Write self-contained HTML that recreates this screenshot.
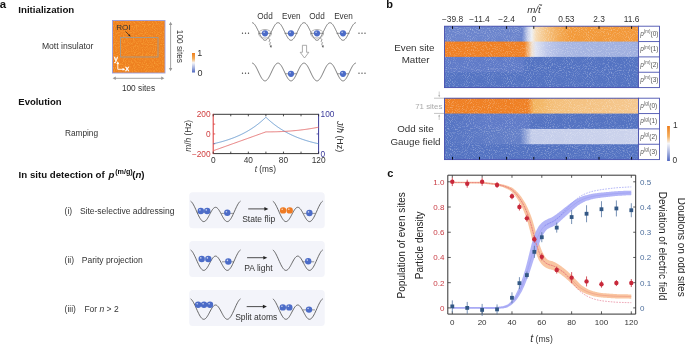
<!DOCTYPE html>
<html><head><meta charset="utf-8"><style>
html,body{margin:0;padding:0;background:#fff;}
svg{display:block;will-change:transform;font-family:"Liberation Sans",sans-serif;}
</style></head><body>
<svg width="685" height="344" viewBox="0 0 685 344">
<defs>
<linearGradient id="cbar" x1="0" x2="0" y1="0" y2="1"><stop offset="0" stop-color="#ee7d1a"/><stop offset="0.3" stop-color="#f4b060"/><stop offset="0.5" stop-color="#f6f6f8"/><stop offset="0.75" stop-color="#a8b4e0"/><stop offset="1" stop-color="#5068c0"/></linearGradient>
<filter id="speck" x="0" y="0" width="1" height="1" color-interpolation-filters="sRGB"><feTurbulence type="fractalNoise" baseFrequency="0.9" numOctaves="1" seed="3"/><feColorMatrix type="matrix" values="0 0 0 0 1  0 0 0 0 0.72  0 0 0 0 0.28  3 0 0 0 -1.3"/><feComposite in2="SourceGraphic" operator="in"/></filter>
<filter id="speck2" x="0" y="0" width="1" height="1"><feTurbulence type="fractalNoise" baseFrequency="0.95" numOctaves="1" seed="7"/><feColorMatrix type="matrix" values="0 0 0 0 1  0 0 0 0 1  0 0 0 0 1  3 0 0 0 -1.5"/><feComposite in2="SourceGraphic" operator="in"/></filter>
</defs>
<text x="-0.3" y="8.1" font-size="11.4" fill="#111" font-weight="bold">a</text>
<text x="18.3" y="12.8" font-size="9.7" fill="#111" font-weight="bold">Initialization</text>
<text x="41.9" y="49.1" font-size="8.6" fill="#333">Mott insulator</text>
<rect x="112.5" y="20.5" width="52.5" height="52.5" fill="#ee8020" stroke="#9a9ee0" stroke-width="0.9"/>
<rect x="113" y="21" width="51.5" height="51.5" fill="#f6b060" opacity="0.5" filter="url(#speck)"/>
<rect x="120.5" y="37.5" width="37.5" height="19.5" fill="none" stroke="#a09a90" stroke-width="0.9"/>
<text x="116.2" y="30.1" font-size="8.1" fill="#333">ROI</text>
<path d="M125.5,31.5 L129.6,35.6" stroke="#222" stroke-width="0.7"/>
<path d="M130.6,36.6 L128.2,35.8 L129.8,34.2 Z" fill="#222"/>
<path d="M117.8,69.3 V63 M117.8,69.3 H123.5" stroke="#fff" stroke-width="0.9" fill="none"/>
<path d="M117.8,61.3 l-1.4,2.6 h2.8z M125.2,69.3 l-2.6,-1.4 v2.8z" fill="#fff"/>
<text x="114" y="60.8" font-size="7.8" fill="#fff" stroke="#fff" stroke-width="0.35">y</text>
<text x="125.2" y="71.4" font-size="7.8" fill="#fff" stroke="#fff" stroke-width="0.35">x</text>
<path d="M114,78.3 H163" stroke="#999" stroke-width="0.9"/>
<path d="M112.6,78.3 l3.2,-1.7 v3.4z M164.4,78.3 l-3.2,-1.7 v3.4z" fill="#999"/>
<text x="121.9" y="90.8" font-size="8.3" fill="#333">100 sites</text>
<path d="M170.6,23.5 V69.5" stroke="#999" stroke-width="0.9"/>
<path d="M170.6,21.8 l-1.7,3.2 h3.4z M170.6,71.2 l-1.7,-3.2 h3.4z" fill="#999"/>
<text x="0" y="0" font-size="8.3" fill="#333" transform="translate(177,29.8) rotate(90)">100 sites</text>
<rect x="192" y="53" width="3" height="19.5" fill="url(#cbar)"/>
<text x="197.2" y="55.8" font-size="9" fill="#333">1</text>
<text x="197.4" y="75.9" font-size="9" fill="#333">0</text>
<path d="M252,22.7 L252.5,22.76 L253,22.96 L253.5,23.27 L254,23.71 L254.5,24.26 L255,24.91 L255.5,25.66 L256,26.5 L256.5,27.41 L257,28.38 L257.5,29.39 L258,30.44 L258.5,31.5 L259,32.56 L259.5,33.61 L260,34.62 L260.5,35.59 L261,36.5 L261.5,37.34 L262,38.09 L262.5,38.74 L263,39.29 L263.5,39.73 L264,40.04 L264.5,40.24 L265,40.3 L265.5,40.24 L266,40.04 L266.5,39.73 L267,39.29 L267.5,38.74 L268,38.09 L268.5,37.34 L269,36.5 L269.5,35.59 L270,34.62 L270.5,33.61 L271,32.56 L271.5,31.5 L272,30.44 L272.5,29.39 L273,28.38 L273.5,27.41 L274,26.5 L274.5,25.66 L275,24.91 L275.5,24.26 L276,23.71 L276.5,23.27 L277,22.96 L277.5,22.76 L278,22.7 L278.5,22.76 L279,22.96 L279.5,23.27 L280,23.71 L280.5,24.26 L281,24.91 L281.5,25.66 L282,26.5 L282.5,27.41 L283,28.38 L283.5,29.39 L284,30.44 L284.5,31.5 L285,32.56 L285.5,33.61 L286,34.62 L286.5,35.59 L287,36.5 L287.5,37.34 L288,38.09 L288.5,38.74 L289,39.29 L289.5,39.73 L290,40.04 L290.5,40.24 L291,40.3 L291.5,40.24 L292,40.04 L292.5,39.73 L293,39.29 L293.5,38.74 L294,38.09 L294.5,37.34 L295,36.5 L295.5,35.59 L296,34.62 L296.5,33.61 L297,32.56 L297.5,31.5 L298,30.44 L298.5,29.39 L299,28.38 L299.5,27.41 L300,26.5 L300.5,25.66 L301,24.91 L301.5,24.26 L302,23.71 L302.5,23.27 L303,22.96 L303.5,22.76 L304,22.7 L304.5,22.76 L305,22.96 L305.5,23.27 L306,23.71 L306.5,24.26 L307,24.91 L307.5,25.66 L308,26.5 L308.5,27.41 L309,28.38 L309.5,29.39 L310,30.44 L310.5,31.5 L311,32.56 L311.5,33.61 L312,34.62 L312.5,35.59 L313,36.5 L313.5,37.34 L314,38.09 L314.5,38.74 L315,39.29 L315.5,39.73 L316,40.04 L316.5,40.24 L317,40.3 L317.5,40.24 L318,40.04 L318.5,39.73 L319,39.29 L319.5,38.74 L320,38.09 L320.5,37.34 L321,36.5 L321.5,35.59 L322,34.62 L322.5,33.61 L323,32.56 L323.5,31.5 L324,30.44 L324.5,29.39 L325,28.38 L325.5,27.41 L326,26.5 L326.5,25.66 L327,24.91 L327.5,24.26 L328,23.71 L328.5,23.27 L329,22.96 L329.5,22.76 L330,22.7 L330.5,22.76 L331,22.96 L331.5,23.27 L332,23.71 L332.5,24.26 L333,24.91 L333.5,25.66 L334,26.5 L334.5,27.41 L335,28.38 L335.5,29.39 L336,30.44 L336.5,31.5 L337,32.56 L337.5,33.61 L338,34.62 L338.5,35.59 L339,36.5 L339.5,37.34 L340,38.09 L340.5,38.74 L341,39.29 L341.5,39.73 L342,40.04 L342.5,40.24 L343,40.3 L343.5,40.24 L344,40.04 L344.5,39.73 L345,39.29 L345.5,38.74 L346,38.09 L346.5,37.34 L347,36.5 L347.5,35.59 L348,34.62 L348.5,33.61 L349,32.56 L349.5,31.5 L350,30.44 L350.5,29.39 L351,28.38 L351.5,27.41 L352,26.5 L352.5,25.66 L353,24.91 L353.5,24.26 L354,23.71 L354.5,23.27 L355,22.96 L355.5,22.76 L356,22.7" fill="none" stroke="#555" stroke-width="0.75"/>
<path d="M252,63.1 L252.5,63.16 L253,63.36 L253.5,63.68 L254,64.12 L254.5,64.68 L255,65.34 L255.5,66.1 L256,66.94 L256.5,67.86 L257,68.84 L257.5,69.87 L258,70.93 L258.5,72 L259,73.07 L259.5,74.13 L260,75.16 L260.5,76.14 L261,77.06 L261.5,77.9 L262,78.66 L262.5,79.32 L263,79.88 L263.5,80.32 L264,80.64 L264.5,80.84 L265,80.9 L265.5,80.84 L266,80.64 L266.5,80.32 L267,79.88 L267.5,79.32 L268,78.66 L268.5,77.9 L269,77.06 L269.5,76.14 L270,75.16 L270.5,74.13 L271,73.07 L271.5,72 L272,70.93 L272.5,69.87 L273,68.84 L273.5,67.86 L274,66.94 L274.5,66.1 L275,65.34 L275.5,64.68 L276,64.12 L276.5,63.68 L277,63.36 L277.5,63.16 L278,63.1 L278.5,63.16 L279,63.36 L279.5,63.68 L280,64.12 L280.5,64.68 L281,65.34 L281.5,66.1 L282,66.94 L282.5,67.86 L283,68.84 L283.5,69.87 L284,70.93 L284.5,72 L285,73.07 L285.5,74.13 L286,75.16 L286.5,76.14 L287,77.06 L287.5,77.9 L288,78.66 L288.5,79.32 L289,79.88 L289.5,80.32 L290,80.64 L290.5,80.84 L291,80.9 L291.5,80.84 L292,80.64 L292.5,80.32 L293,79.88 L293.5,79.32 L294,78.66 L294.5,77.9 L295,77.06 L295.5,76.14 L296,75.16 L296.5,74.13 L297,73.07 L297.5,72 L298,70.93 L298.5,69.87 L299,68.84 L299.5,67.86 L300,66.94 L300.5,66.1 L301,65.34 L301.5,64.68 L302,64.12 L302.5,63.68 L303,63.36 L303.5,63.16 L304,63.1 L304.5,63.16 L305,63.36 L305.5,63.68 L306,64.12 L306.5,64.68 L307,65.34 L307.5,66.1 L308,66.94 L308.5,67.86 L309,68.84 L309.5,69.87 L310,70.93 L310.5,72 L311,73.07 L311.5,74.13 L312,75.16 L312.5,76.14 L313,77.06 L313.5,77.9 L314,78.66 L314.5,79.32 L315,79.88 L315.5,80.32 L316,80.64 L316.5,80.84 L317,80.9 L317.5,80.84 L318,80.64 L318.5,80.32 L319,79.88 L319.5,79.32 L320,78.66 L320.5,77.9 L321,77.06 L321.5,76.14 L322,75.16 L322.5,74.13 L323,73.07 L323.5,72 L324,70.93 L324.5,69.87 L325,68.84 L325.5,67.86 L326,66.94 L326.5,66.1 L327,65.34 L327.5,64.68 L328,64.12 L328.5,63.68 L329,63.36 L329.5,63.16 L330,63.1 L330.5,63.16 L331,63.36 L331.5,63.68 L332,64.12 L332.5,64.68 L333,65.34 L333.5,66.1 L334,66.94 L334.5,67.86 L335,68.84 L335.5,69.87 L336,70.93 L336.5,72 L337,73.07 L337.5,74.13 L338,75.16 L338.5,76.14 L339,77.06 L339.5,77.9 L340,78.66 L340.5,79.32 L341,79.88 L341.5,80.32 L342,80.64 L342.5,80.84 L343,80.9 L343.5,80.84 L344,80.64 L344.5,80.32 L345,79.88 L345.5,79.32 L346,78.66 L346.5,77.9 L347,77.06 L347.5,76.14 L348,75.16 L348.5,74.13 L349,73.07 L349.5,72 L350,70.93 L350.5,69.87 L351,68.84 L351.5,67.86 L352,66.94 L352.5,66.1 L353,65.34 L353.5,64.68 L354,64.12 L354.5,63.68 L355,63.36 L355.5,63.16 L356,63.1" fill="none" stroke="#555" stroke-width="0.75"/>
<text x="265" y="18.5" font-size="8.2" fill="#333" text-anchor="middle">Odd</text>
<text x="291.3" y="18.5" font-size="8.2" fill="#333" text-anchor="middle">Even</text>
<text x="317" y="18.5" font-size="8.2" fill="#333" text-anchor="middle">Odd</text>
<text x="343.5" y="18.5" font-size="8.2" fill="#333" text-anchor="middle">Even</text>
<ellipse cx="265" cy="33.8" rx="6.4" ry="4.3" fill="none" stroke="#999" stroke-width="0.75"/>
<ellipse cx="317" cy="33.8" rx="6.4" ry="4.3" fill="none" stroke="#999" stroke-width="0.75"/>
<path d="M258.5,33.3 H271.5" stroke="#666" stroke-width="0.7"/>
<circle cx="265" cy="33.3" r="3.1" fill="#4c6cc8"/>
<circle cx="264.1" cy="32.2" r="0.78" fill="#fff" opacity="0.7"/>
<path d="M284.5,33.3 H297.5" stroke="#666" stroke-width="0.7"/>
<circle cx="291" cy="33.3" r="3.1" fill="#4c6cc8"/>
<circle cx="290.1" cy="32.2" r="0.78" fill="#fff" opacity="0.7"/>
<path d="M310.5,33.3 H323.5" stroke="#666" stroke-width="0.7"/>
<circle cx="317" cy="33.3" r="3.1" fill="#4c6cc8"/>
<circle cx="316.1" cy="32.2" r="0.78" fill="#fff" opacity="0.7"/>
<path d="M336.5,33.3 H349.5" stroke="#666" stroke-width="0.7"/>
<circle cx="343" cy="33.3" r="3.1" fill="#4c6cc8"/>
<circle cx="342.1" cy="32.2" r="0.78" fill="#fff" opacity="0.7"/>
<path d="M285.3,73.8 H296.7" stroke="#666" stroke-width="0.7"/>
<circle cx="291" cy="73.8" r="3.1" fill="#4c6cc8"/>
<circle cx="290.1" cy="72.7" r="0.78" fill="#fff" opacity="0.7"/>
<path d="M337.3,73.8 H348.7" stroke="#666" stroke-width="0.7"/>
<circle cx="343" cy="73.8" r="3.1" fill="#4c6cc8"/>
<circle cx="342.1" cy="72.7" r="0.78" fill="#fff" opacity="0.7"/>
<path d="M268.6,38.2 L270,39.8 L269.1,41.3 L270.5,42.8 L269.6,44.2 L270.8,45.6" fill="none" stroke="#555" stroke-width="0.6" stroke-linejoin="round"/>
<path d="M271.1,48 l-1.5,-2.3 l2.3,-0.3z" fill="#555"/>
<path d="M320.6,38.2 L322,39.8 L321.1,41.3 L322.5,42.8 L321.6,44.2 L322.8,45.6" fill="none" stroke="#555" stroke-width="0.6" stroke-linejoin="round"/>
<path d="M323.1,48 l-1.5,-2.3 l2.3,-0.3z" fill="#555"/>
<circle cx="242.5" cy="33.2" r="0.65" fill="#333"/>
<circle cx="245.5" cy="33.2" r="0.65" fill="#333"/>
<circle cx="248.5" cy="33.2" r="0.65" fill="#333"/>
<circle cx="359" cy="33.2" r="0.65" fill="#333"/>
<circle cx="362" cy="33.2" r="0.65" fill="#333"/>
<circle cx="365" cy="33.2" r="0.65" fill="#333"/>
<circle cx="242.5" cy="73.2" r="0.65" fill="#333"/>
<circle cx="245.5" cy="73.2" r="0.65" fill="#333"/>
<circle cx="248.5" cy="73.2" r="0.65" fill="#333"/>
<circle cx="359" cy="73.2" r="0.65" fill="#333"/>
<circle cx="362" cy="73.2" r="0.65" fill="#333"/>
<circle cx="365" cy="73.2" r="0.65" fill="#333"/>
<path d="M302.4,45.3 H306.6 V52.3 H308.8 L304.5,58 L300.2,52.3 H302.4 Z" fill="#fff" stroke="#888" stroke-width="0.7"/>
<text x="18.3" y="104.8" font-size="9.5" fill="#111" font-weight="bold">Evolution</text>
<text x="64.9" y="135.7" font-size="8.3" fill="#333">Ramping</text>
<path d="M213.2,114.3 H318.6 M213.2,153.6 H318.6" stroke="#222" stroke-width="0.9"/>
<path d="M213.2,113.85 V154.04999999999998" stroke="#d33" stroke-width="1"/>
<path d="M318.6,113.85 V154.04999999999998" stroke="#3a3a9a" stroke-width="1"/>
<path d="M213.2,114.3 v2 M213.2,153.6 v-2 M230.77,114.3 v2 M230.77,153.6 v-2 M248.33,114.3 v2 M248.33,153.6 v-2 M265.9,114.3 v2 M265.9,153.6 v-2 M283.47,114.3 v2 M283.47,153.6 v-2 M301.03,114.3 v2 M301.03,153.6 v-2 M318.6,114.3 v2 M318.6,153.6 v-2 " stroke="#222" stroke-width="0.8"/>
<path d="M213.2,124.12 h2 M213.2,133.95 h2 M213.2,143.78 h2 " stroke="#d33" stroke-width="0.8"/>
<path d="M318.6,133.95 h-2 " stroke="#3a3a9a" stroke-width="0.8"/>
<text x="210.6" y="117.2" font-size="8.3" fill="#d04040" text-anchor="end">200</text>
<text x="210.6" y="136.85" font-size="8.3" fill="#d04040" text-anchor="end">0</text>
<text x="210.6" y="156.5" font-size="8.3" fill="#d04040" text-anchor="end">−200</text>
<text x="320.6" y="117.2" font-size="8.3" fill="#3a3a9a">100</text>
<text x="320.6" y="156.5" font-size="8.3" fill="#3a3a9a">0</text>
<text x="213.2" y="163" font-size="8.3" fill="#333" text-anchor="middle">0</text>
<text x="248.33" y="163" font-size="8.3" fill="#333" text-anchor="middle">40</text>
<text x="283.47" y="163" font-size="8.3" fill="#333" text-anchor="middle">80</text>
<text x="318.6" y="163" font-size="8.3" fill="#333" text-anchor="middle">120</text>
<text x="265.3" y="172" font-size="8.3" fill="#333" text-anchor="middle"><tspan font-style="italic">t</tspan> (ms)</text>
<text transform="translate(190.5,135.8) rotate(-90)" font-size="8.3" fill="#333" text-anchor="middle"><tspan font-style="italic">m</tspan>/<tspan font-style="italic">h</tspan> (Hz)</text>
<text transform="translate(336.6,136.6) rotate(90)" font-size="8.9" fill="#333" text-anchor="middle"><tspan font-style="italic">J</tspan>/<tspan font-style="italic">ħ</tspan> (Hz)</text>
<path d="M213.2,143.78 L213.64,143.68 L214.08,143.58 L214.52,143.48 L214.96,143.38 L215.4,143.28 L215.83,143.18 L216.27,143.08 L216.71,142.97 L217.15,142.87 L217.59,142.76 L218.03,142.65 L218.47,142.54 L218.91,142.43 L219.35,142.32 L219.79,142.2 L220.23,142.09 L220.67,141.97 L221.1,141.85 L221.54,141.73 L221.98,141.61 L222.42,141.48 L222.86,141.36 L223.3,141.23 L223.74,141.11 L224.18,140.98 L224.62,140.84 L225.06,140.71 L225.5,140.58 L225.94,140.44 L226.38,140.3 L226.81,140.16 L227.25,140.02 L227.69,139.88 L228.13,139.73 L228.57,139.59 L229.01,139.44 L229.45,139.29 L229.89,139.14 L230.33,138.98 L230.77,138.82 L231.21,138.67 L231.64,138.51 L232.08,138.34 L232.52,138.18 L232.96,138.01 L233.4,137.85 L233.84,137.67 L234.28,137.5 L234.72,137.33 L235.16,137.15 L235.6,136.97 L236.04,136.79 L236.48,136.61 L236.91,136.42 L237.35,136.23 L237.79,136.04 L238.23,135.85 L238.67,135.65 L239.11,135.45 L239.55,135.25 L239.99,135.05 L240.43,134.84 L240.87,134.63 L241.31,134.42 L241.75,134.21 L242.19,133.99 L242.62,133.77 L243.06,133.55 L243.5,133.33 L243.94,133.1 L244.38,132.87 L244.82,132.64 L245.26,132.4 L245.7,132.16 L246.14,131.92 L246.58,131.68 L247.02,131.43 L247.45,131.18 L247.89,130.92 L248.33,130.66 L248.77,130.4 L249.21,130.14 L249.65,129.87 L250.09,129.6 L250.53,129.33 L250.97,129.05 L251.41,128.77 L251.85,128.48 L252.29,128.19 L252.72,127.9 L253.16,127.61 L253.6,127.31 L254.04,127 L254.48,126.7 L254.92,126.39 L255.36,126.07 L255.8,125.75 L256.24,125.43 L256.68,125.1 L257.12,124.77 L257.56,124.44 L258,124.1 L258.43,123.75 L258.87,123.41 L259.31,123.05 L259.75,122.7 L260.19,122.34 L260.63,121.97 L261.07,121.6 L261.51,121.23 L261.95,120.85 L262.39,120.46 L262.83,120.07 L263.26,119.68 L263.7,119.28 L264.14,118.88 L264.58,118.47 L265.02,118.05 L265.46,117.63 L265.9,117.21 L266.34,117.63 L266.78,118.05 L267.22,118.47 L267.66,118.88 L268.1,119.28 L268.54,119.68 L268.97,120.07 L269.41,120.46 L269.85,120.85 L270.29,121.23 L270.73,121.6 L271.17,121.97 L271.61,122.34 L272.05,122.7 L272.49,123.05 L272.93,123.41 L273.37,123.75 L273.81,124.1 L274.24,124.44 L274.68,124.77 L275.12,125.1 L275.56,125.43 L276,125.75 L276.44,126.07 L276.88,126.39 L277.32,126.7 L277.76,127 L278.2,127.31 L278.64,127.61 L279.08,127.9 L279.51,128.19 L279.95,128.48 L280.39,128.77 L280.83,129.05 L281.27,129.33 L281.71,129.6 L282.15,129.87 L282.59,130.14 L283.03,130.4 L283.47,130.66 L283.91,130.92 L284.35,131.18 L284.78,131.43 L285.22,131.68 L285.66,131.92 L286.1,132.16 L286.54,132.4 L286.98,132.64 L287.42,132.87 L287.86,133.1 L288.3,133.33 L288.74,133.55 L289.18,133.77 L289.62,133.99 L290.05,134.21 L290.49,134.42 L290.93,134.63 L291.37,134.84 L291.81,135.05 L292.25,135.25 L292.69,135.45 L293.13,135.65 L293.57,135.85 L294.01,136.04 L294.45,136.23 L294.88,136.42 L295.32,136.61 L295.76,136.79 L296.2,136.97 L296.64,137.15 L297.08,137.33 L297.52,137.5 L297.96,137.67 L298.4,137.85 L298.84,138.01 L299.28,138.18 L299.72,138.34 L300.16,138.51 L300.59,138.67 L301.03,138.82 L301.47,138.98 L301.91,139.14 L302.35,139.29 L302.79,139.44 L303.23,139.59 L303.67,139.73 L304.11,139.88 L304.55,140.02 L304.99,140.16 L305.43,140.3 L305.86,140.44 L306.3,140.58 L306.74,140.71 L307.18,140.84 L307.62,140.98 L308.06,141.11 L308.5,141.23 L308.94,141.36 L309.38,141.48 L309.82,141.61 L310.26,141.73 L310.7,141.85 L311.13,141.97 L311.57,142.09 L312.01,142.2 L312.45,142.32 L312.89,142.43 L313.33,142.54 L313.77,142.65 L314.21,142.76 L314.65,142.87 L315.09,142.97 L315.53,143.08 L315.97,143.18 L316.4,143.28 L316.84,143.38 L317.28,143.48 L317.72,143.58 L318.16,143.68 L318.6,143.78" fill="none" stroke="#4a86c5" stroke-width="0.8"/>
<path d="M213.2,150.75 L214.08,150.44 L214.96,150.12 L215.83,149.81 L216.71,149.49 L217.59,149.18 L218.47,148.86 L219.35,148.55 L220.23,148.24 L221.1,147.92 L221.98,147.61 L222.86,147.29 L223.74,146.98 L224.62,146.66 L225.5,146.35 L226.38,146.03 L227.25,145.72 L228.13,145.41 L229.01,145.09 L229.89,144.78 L230.77,144.46 L231.64,144.15 L232.52,143.83 L233.4,143.52 L234.28,143.21 L235.16,142.89 L236.04,142.58 L236.91,142.26 L237.79,141.95 L238.67,141.63 L239.55,141.32 L240.43,141 L241.31,140.69 L242.19,140.38 L243.06,140.06 L243.94,139.75 L244.82,139.43 L245.7,139.12 L246.58,138.8 L247.45,138.49 L248.33,138.17 L249.21,137.86 L250.09,137.55 L250.97,137.23 L251.85,136.92 L252.72,136.6 L253.6,136.29 L254.48,135.97 L255.36,135.66 L256.24,135.35 L257.12,135.03 L258,134.72 L258.87,134.4 L259.75,134.09 L260.63,133.77 L261.51,133.46 L262.39,133.14 L263.26,132.83 L264.14,132.52 L265.02,132.2 L265.9,131.89 L266.78,131.89 L267.66,131.88 L268.54,131.88 L269.41,131.87 L270.29,131.87 L271.17,131.86 L272.05,131.85 L272.93,131.83 L273.81,131.81 L274.68,131.8 L275.56,131.77 L276.44,131.75 L277.32,131.72 L278.2,131.7 L279.08,131.66 L279.95,131.63 L280.83,131.59 L281.71,131.56 L282.59,131.51 L283.47,131.47 L284.35,131.42 L285.22,131.37 L286.1,131.32 L286.98,131.26 L287.86,131.2 L288.74,131.14 L289.62,131.08 L290.49,131.01 L291.37,130.94 L292.25,130.87 L293.13,130.79 L294.01,130.71 L294.88,130.63 L295.76,130.54 L296.64,130.45 L297.52,130.36 L298.4,130.27 L299.28,130.17 L300.16,130.07 L301.03,129.97 L301.91,129.86 L302.79,129.75 L303.67,129.63 L304.55,129.52 L305.43,129.4 L306.3,129.27 L307.18,129.15 L308.06,129.02 L308.94,128.89 L309.82,128.75 L310.7,128.61 L311.57,128.47 L312.45,128.32 L313.33,128.17 L314.21,128.02 L315.09,127.86 L315.97,127.7 L316.84,127.54 L317.72,127.37 L318.6,127.2" fill="none" stroke="#e05a5a" stroke-width="0.8"/>
<text x="18.6" y="177.5" font-size="9.7" font-weight="bold" fill="#111">In situ detection of <tspan font-style="italic" dx="1.2">p</tspan><tspan font-size="7.2" dy="-3.8" dx="0.6">(m/g)</tspan><tspan dy="3.8" dx="-0.5">(</tspan><tspan font-style="italic">n</tspan>)</text>
<text x="64.6" y="214" font-size="8.5" fill="#333">(i)</text>
<text x="79.9" y="214" font-size="8.5" fill="#333">Site-selective addressing</text>
<text x="64.6" y="262.9" font-size="8.5" fill="#333">(ii)</text>
<text x="81.8" y="262.9" font-size="8.5" fill="#333">Parity projection</text>
<text x="64.6" y="311.7" font-size="8.5" fill="#333">(iii)</text>
<text x="84.4" y="311.7" font-size="8.5" fill="#333">For <tspan font-style="italic">n</tspan> &gt; 2</text>
<rect x="189.2" y="192.3" width="135.5" height="36" rx="3.5" fill="#f3f4fa"/>
<path d="M190.66,201.11 L191.39,201.74 L192.12,202.61 L192.85,203.68 L193.58,204.93 L194.31,206.33 L195.04,207.86 L195.77,209.46 L196.5,211.1 L197.23,212.74 L197.96,214.34 L198.69,215.87 L199.42,217.27 L200.15,218.52 L200.88,219.59 L201.61,220.46 L202.34,221.09 L203.07,221.47 L203.8,221.6 L203.8,221.6 L204.39,221.51 L204.98,221.25 L205.56,220.82 L206.15,220.23 L206.74,219.51 L207.33,218.65 L207.91,217.7 L208.5,216.66 L209.09,215.57 L209.68,214.45 L210.26,213.33 L210.85,212.24 L211.44,211.2 L212.03,210.25 L212.61,209.39 L213.2,208.67 L213.79,208.08 L214.38,207.65 L214.96,207.39 L215.55,207.3 L215.55,207.3 L216.14,207.39 L216.73,207.65 L217.31,208.08 L217.9,208.67 L218.49,209.39 L219.07,210.25 L219.66,211.2 L220.25,212.24 L220.84,213.33 L221.43,214.45 L222.01,215.57 L222.6,216.66 L223.19,217.7 L223.77,218.65 L224.36,219.51 L224.95,220.23 L225.54,220.82 L226.12,221.25 L226.71,221.51 L227.3,221.6 L227.3,221.6 L228.03,221.47 L228.76,221.09 L229.49,220.46 L230.22,219.59 L230.95,218.52 L231.68,217.27 L232.41,215.87 L233.14,214.34 L233.87,212.74 L234.6,211.1 L235.33,209.46 L236.06,207.86 L236.79,206.33 L237.52,204.93 L238.25,203.68 L238.98,202.61 L239.71,201.74 L240.44,201.11" fill="none" stroke="#444" stroke-width="0.8"/>
<path d="M272.86,201.11 L273.59,201.74 L274.32,202.61 L275.05,203.68 L275.78,204.93 L276.51,206.33 L277.24,207.86 L277.97,209.46 L278.7,211.1 L279.43,212.74 L280.16,214.34 L280.89,215.87 L281.62,217.27 L282.35,218.52 L283.08,219.59 L283.81,220.46 L284.54,221.09 L285.27,221.47 L286,221.6 L286,221.6 L286.59,221.51 L287.18,221.25 L287.76,220.82 L288.35,220.23 L288.94,219.51 L289.52,218.65 L290.11,217.7 L290.7,216.66 L291.29,215.57 L291.88,214.45 L292.46,213.33 L293.05,212.24 L293.64,211.2 L294.23,210.25 L294.81,209.39 L295.4,208.67 L295.99,208.08 L296.57,207.65 L297.16,207.39 L297.75,207.3 L297.75,207.3 L298.34,207.39 L298.93,207.65 L299.51,208.08 L300.1,208.67 L300.69,209.39 L301.28,210.25 L301.86,211.2 L302.45,212.24 L303.04,213.33 L303.62,214.45 L304.21,215.57 L304.8,216.66 L305.39,217.7 L305.98,218.65 L306.56,219.51 L307.15,220.23 L307.74,220.82 L308.33,221.25 L308.91,221.51 L309.5,221.6 L309.5,221.6 L310.23,221.47 L310.96,221.09 L311.69,220.46 L312.42,219.59 L313.15,218.52 L313.88,217.27 L314.61,215.87 L315.34,214.34 L316.07,212.74 L316.8,211.1 L317.53,209.46 L318.26,207.86 L318.99,206.33 L319.72,204.93 L320.45,203.68 L321.18,202.61 L321.91,201.74 L322.64,201.11" fill="none" stroke="#444" stroke-width="0.8"/>
<path d="M248.2,208.9 H265" stroke="#222" stroke-width="0.8"/>
<path d="M268.4,208.9 l-4,-1.8 v3.6z" fill="#222"/>
<text x="242.2" y="222.3" font-size="8.5" fill="#333">State flip</text>
<rect x="189.2" y="241.1" width="135.5" height="36" rx="3.5" fill="#f3f4fa"/>
<path d="M190.66,249.91 L191.39,250.54 L192.12,251.41 L192.85,252.48 L193.58,253.73 L194.31,255.13 L195.04,256.66 L195.77,258.26 L196.5,259.9 L197.23,261.54 L197.96,263.14 L198.69,264.67 L199.42,266.07 L200.15,267.32 L200.88,268.39 L201.61,269.26 L202.34,269.89 L203.07,270.27 L203.8,270.4 L203.8,270.4 L204.39,270.31 L204.98,270.05 L205.56,269.62 L206.15,269.03 L206.74,268.31 L207.33,267.45 L207.91,266.5 L208.5,265.46 L209.09,264.37 L209.68,263.25 L210.26,262.13 L210.85,261.04 L211.44,260 L212.03,259.05 L212.61,258.19 L213.2,257.47 L213.79,256.88 L214.38,256.45 L214.96,256.19 L215.55,256.1 L215.55,256.1 L216.14,256.19 L216.73,256.45 L217.31,256.88 L217.9,257.47 L218.49,258.19 L219.07,259.05 L219.66,260 L220.25,261.04 L220.84,262.13 L221.43,263.25 L222.01,264.37 L222.6,265.46 L223.19,266.5 L223.77,267.45 L224.36,268.31 L224.95,269.03 L225.54,269.62 L226.12,270.05 L226.71,270.31 L227.3,270.4 L227.3,270.4 L228.03,270.27 L228.76,269.89 L229.49,269.26 L230.22,268.39 L230.95,267.32 L231.68,266.07 L232.41,264.67 L233.14,263.14 L233.87,261.54 L234.6,259.9 L235.33,258.26 L236.06,256.66 L236.79,255.13 L237.52,253.73 L238.25,252.48 L238.98,251.41 L239.71,250.54 L240.44,249.91" fill="none" stroke="#444" stroke-width="0.8"/>
<path d="M272.86,249.91 L273.59,250.54 L274.32,251.41 L275.05,252.48 L275.78,253.73 L276.51,255.13 L277.24,256.66 L277.97,258.26 L278.7,259.9 L279.43,261.54 L280.16,263.14 L280.89,264.67 L281.62,266.07 L282.35,267.32 L283.08,268.39 L283.81,269.26 L284.54,269.89 L285.27,270.27 L286,270.4 L286,270.4 L286.59,270.31 L287.18,270.05 L287.76,269.62 L288.35,269.03 L288.94,268.31 L289.52,267.45 L290.11,266.5 L290.7,265.46 L291.29,264.37 L291.88,263.25 L292.46,262.13 L293.05,261.04 L293.64,260 L294.23,259.05 L294.81,258.19 L295.4,257.47 L295.99,256.88 L296.57,256.45 L297.16,256.19 L297.75,256.1 L297.75,256.1 L298.34,256.19 L298.93,256.45 L299.51,256.88 L300.1,257.47 L300.69,258.19 L301.28,259.05 L301.86,260 L302.45,261.04 L303.04,262.13 L303.62,263.25 L304.21,264.37 L304.8,265.46 L305.39,266.5 L305.98,267.45 L306.56,268.31 L307.15,269.03 L307.74,269.62 L308.33,270.05 L308.91,270.31 L309.5,270.4 L309.5,270.4 L310.23,270.27 L310.96,269.89 L311.69,269.26 L312.42,268.39 L313.15,267.32 L313.88,266.07 L314.61,264.67 L315.34,263.14 L316.07,261.54 L316.8,259.9 L317.53,258.26 L318.26,256.66 L318.99,255.13 L319.72,253.73 L320.45,252.48 L321.18,251.41 L321.91,250.54 L322.64,249.91" fill="none" stroke="#444" stroke-width="0.8"/>
<path d="M247.1,257.7 H263.9" stroke="#222" stroke-width="0.8"/>
<path d="M267.3,257.7 l-4,-1.8 v3.6z" fill="#222"/>
<text x="244.3" y="271.1" font-size="8.5" fill="#333">PA light</text>
<rect x="189.2" y="290" width="135.5" height="36" rx="3.5" fill="#f3f4fa"/>
<path d="M190.66,298.81 L191.39,299.44 L192.12,300.31 L192.85,301.38 L193.58,302.63 L194.31,304.03 L195.04,305.56 L195.77,307.16 L196.5,308.8 L197.23,310.44 L197.96,312.04 L198.69,313.57 L199.42,314.97 L200.15,316.22 L200.88,317.29 L201.61,318.16 L202.34,318.79 L203.07,319.17 L203.8,319.3 L203.8,319.3 L204.39,319.21 L204.98,318.95 L205.56,318.52 L206.15,317.93 L206.74,317.21 L207.33,316.35 L207.91,315.4 L208.5,314.36 L209.09,313.27 L209.68,312.15 L210.26,311.03 L210.85,309.94 L211.44,308.9 L212.03,307.95 L212.61,307.09 L213.2,306.37 L213.79,305.78 L214.38,305.35 L214.96,305.09 L215.55,305 L215.55,305 L216.14,305.09 L216.73,305.35 L217.31,305.78 L217.9,306.37 L218.49,307.09 L219.07,307.95 L219.66,308.9 L220.25,309.94 L220.84,311.03 L221.43,312.15 L222.01,313.27 L222.6,314.36 L223.19,315.4 L223.77,316.35 L224.36,317.21 L224.95,317.93 L225.54,318.52 L226.12,318.95 L226.71,319.21 L227.3,319.3 L227.3,319.3 L228.03,319.17 L228.76,318.79 L229.49,318.16 L230.22,317.29 L230.95,316.22 L231.68,314.97 L232.41,313.57 L233.14,312.04 L233.87,310.44 L234.6,308.8 L235.33,307.16 L236.06,305.56 L236.79,304.03 L237.52,302.63 L238.25,301.38 L238.98,300.31 L239.71,299.44 L240.44,298.81" fill="none" stroke="#444" stroke-width="0.8"/>
<path d="M272.86,298.81 L273.59,299.44 L274.32,300.31 L275.05,301.38 L275.78,302.63 L276.51,304.03 L277.24,305.56 L277.97,307.16 L278.7,308.8 L279.43,310.44 L280.16,312.04 L280.89,313.57 L281.62,314.97 L282.35,316.22 L283.08,317.29 L283.81,318.16 L284.54,318.79 L285.27,319.17 L286,319.3 L286,319.3 L286.59,319.21 L287.18,318.95 L287.76,318.52 L288.35,317.93 L288.94,317.21 L289.52,316.35 L290.11,315.4 L290.7,314.36 L291.29,313.27 L291.88,312.15 L292.46,311.03 L293.05,309.94 L293.64,308.9 L294.23,307.95 L294.81,307.09 L295.4,306.37 L295.99,305.78 L296.57,305.35 L297.16,305.09 L297.75,305 L297.75,305 L298.34,305.09 L298.93,305.35 L299.51,305.78 L300.1,306.37 L300.69,307.09 L301.28,307.95 L301.86,308.9 L302.45,309.94 L303.04,311.03 L303.62,312.15 L304.21,313.27 L304.8,314.36 L305.39,315.4 L305.98,316.35 L306.56,317.21 L307.15,317.93 L307.74,318.52 L308.33,318.95 L308.91,319.21 L309.5,319.3 L309.5,319.3 L310.23,319.17 L310.96,318.79 L311.69,318.16 L312.42,317.29 L313.15,316.22 L313.88,314.97 L314.61,313.57 L315.34,312.04 L316.07,310.44 L316.8,308.8 L317.53,307.16 L318.26,305.56 L318.99,304.03 L319.72,302.63 L320.45,301.38 L321.18,300.31 L321.91,299.44 L322.64,298.81" fill="none" stroke="#444" stroke-width="0.8"/>
<path d="M246.7,306.6 H263.5" stroke="#222" stroke-width="0.8"/>
<path d="M266.9,306.6 l-4,-1.8 v3.6z" fill="#222"/>
<text x="235.2" y="320" font-size="8.5" fill="#333">Split atoms</text>
<path d="M196.8,212.2 H211" stroke="#555" stroke-width="0.6"/>
<circle cx="200.8" cy="211" r="3.2" fill="#4c6cc8"/>
<circle cx="199.9" cy="209.9" r="0.8" fill="#fff" opacity="0.7"/>
<circle cx="207.2" cy="211" r="3.2" fill="#4c6cc8"/>
<circle cx="206.3" cy="209.9" r="0.8" fill="#fff" opacity="0.7"/>
<path d="M221.2,213.4 H233" stroke="#555" stroke-width="0.6"/>
<circle cx="227.3" cy="212.8" r="3.2" fill="#4c6cc8"/>
<circle cx="226.4" cy="211.7" r="0.8" fill="#fff" opacity="0.7"/>
<circle cx="283.1" cy="210.4" r="3.2" fill="#ee7a22"/>
<circle cx="282.2" cy="209.3" r="0.8" fill="#fff" opacity="0.7"/>
<circle cx="289.7" cy="210.4" r="3.2" fill="#ee7a22"/>
<circle cx="288.8" cy="209.3" r="0.8" fill="#fff" opacity="0.7"/>
<path d="M303.4,213.4 H315.2" stroke="#555" stroke-width="0.6"/>
<circle cx="309.4" cy="213" r="3.2" fill="#4c6cc8"/>
<circle cx="308.5" cy="211.9" r="0.8" fill="#fff" opacity="0.7"/>
<circle cx="201.7" cy="259" r="3.2" fill="#4c6cc8"/>
<circle cx="200.8" cy="257.9" r="0.8" fill="#fff" opacity="0.7"/>
<circle cx="208.3" cy="259" r="3.2" fill="#4c6cc8"/>
<circle cx="207.4" cy="257.9" r="0.8" fill="#fff" opacity="0.7"/>
<path d="M222,261.8 H234" stroke="#555" stroke-width="0.6"/>
<circle cx="228.3" cy="261.5" r="3.2" fill="#4c6cc8"/>
<circle cx="227.4" cy="260.4" r="0.8" fill="#fff" opacity="0.7"/>
<path d="M302.2,261.8 H314.2" stroke="#555" stroke-width="0.6"/>
<circle cx="308.2" cy="261.2" r="3.2" fill="#4c6cc8"/>
<circle cx="307.3" cy="260.1" r="0.8" fill="#fff" opacity="0.7"/>
<circle cx="198.1" cy="304.8" r="3.2" fill="#4c6cc8"/>
<circle cx="197.2" cy="303.7" r="0.8" fill="#fff" opacity="0.7"/>
<circle cx="204" cy="304.8" r="3.2" fill="#4c6cc8"/>
<circle cx="203.1" cy="303.7" r="0.8" fill="#fff" opacity="0.7"/>
<circle cx="210" cy="304.8" r="3.2" fill="#4c6cc8"/>
<circle cx="209.1" cy="303.7" r="0.8" fill="#fff" opacity="0.7"/>
<circle cx="282.8" cy="307.4" r="3.2" fill="#4c6cc8"/>
<circle cx="281.9" cy="306.3" r="0.8" fill="#fff" opacity="0.7"/>
<circle cx="289.3" cy="307.4" r="3.2" fill="#4c6cc8"/>
<circle cx="288.4" cy="306.3" r="0.8" fill="#fff" opacity="0.7"/>
<path d="M303,309.9 H315" stroke="#555" stroke-width="0.6"/>
<circle cx="309" cy="309.6" r="3.2" fill="#4c6cc8"/>
<circle cx="308.1" cy="308.5" r="0.8" fill="#fff" opacity="0.7"/>
<text x="386.3" y="7.8" font-size="11" fill="#111" font-weight="bold">b</text>
<text x="534" y="12.6" font-size="9.8" fill="#333" text-anchor="middle" font-style="italic">m/t̃</text>
<text x="452.5" y="21.9" font-size="8.4" fill="#333" text-anchor="middle">−39.8</text>
<text x="479.5" y="21.9" font-size="8.4" fill="#333" text-anchor="middle">−11.4</text>
<text x="506.6" y="21.9" font-size="8.4" fill="#333" text-anchor="middle">−2.4</text>
<text x="533.8" y="21.9" font-size="8.4" fill="#333" text-anchor="middle">0</text>
<text x="566.3" y="21.9" font-size="8.4" fill="#333" text-anchor="middle">0.53</text>
<text x="599" y="21.9" font-size="8.4" fill="#333" text-anchor="middle">2.3</text>
<text x="631.6" y="21.9" font-size="8.4" fill="#333" text-anchor="middle">11.6</text>
<rect x="444.5" y="26.2" width="194.0" height="61.4" fill="#5473c2"/>
<linearGradient id="gt0" x1="0" x2="1" y1="0" y2="0"><stop offset="0" stop-color="#6b84cc"/><stop offset="0.4" stop-color="#6b84cc"/><stop offset="0.43" stop-color="#c8d0ea"/><stop offset="0.45" stop-color="#eef0f4"/><stop offset="0.47" stop-color="#f6dcb8"/><stop offset="0.52" stop-color="#f5c485"/><stop offset="0.59" stop-color="#f3aa55"/><stop offset="0.65" stop-color="#f29a3a"/><stop offset="1" stop-color="#f2983a"/></linearGradient>
<rect x="444.5" y="26.2" width="194.0" height="15.95" fill="url(#gt0)"/>
<linearGradient id="gt1" x1="0" x2="1" y1="0" y2="0"><stop offset="0" stop-color="#ef8024"/><stop offset="0.41" stop-color="#ef8024"/><stop offset="0.43" stop-color="#f3b070"/><stop offset="0.45" stop-color="#f0e0d0"/><stop offset="0.47" stop-color="#dfe3f2"/><stop offset="0.53" stop-color="#bcc6ea"/><stop offset="0.62" stop-color="#a8b6e2"/><stop offset="1" stop-color="#9eaedf"/></linearGradient>
<rect x="444.5" y="41.55" width="194.0" height="15.95" fill="url(#gt1)"/>
<linearGradient id="gt2" x1="0" x2="1" y1="0" y2="0"><stop offset="0" stop-color="#607bc8"/><stop offset="0.4" stop-color="#607bc8"/><stop offset="0.42" stop-color="#5473c2"/><stop offset="1" stop-color="#5473c2"/></linearGradient>
<rect x="444.5" y="56.9" width="194.0" height="15.95" fill="url(#gt2)"/>
<linearGradient id="gt3" x1="0" x2="1" y1="0" y2="0"><stop offset="0" stop-color="#5473c2"/><stop offset="1" stop-color="#5473c2"/></linearGradient>
<rect x="444.5" y="72.25" width="194.0" height="15.35" fill="url(#gt3)"/>
<rect x="444.5" y="26.2" width="194.0" height="61.4" fill="#fff" opacity="0.38" filter="url(#speck2)"/>
<rect x="444.5" y="98.2" width="194.0" height="61.4" fill="#5473c2"/>
<linearGradient id="gb0" x1="0" x2="1" y1="0" y2="0"><stop offset="0" stop-color="#ef8024"/><stop offset="0.43" stop-color="#ef8024"/><stop offset="0.46" stop-color="#f3b45e"/><stop offset="0.57" stop-color="#f4c07c"/><stop offset="1" stop-color="#f5c890"/></linearGradient>
<rect x="444.5" y="98.2" width="194.0" height="15.95" fill="url(#gb0)"/>
<linearGradient id="gb1" x1="0" x2="1" y1="0" y2="0"><stop offset="0" stop-color="#5473c2"/><stop offset="0.23" stop-color="#607bc8"/><stop offset="0.43" stop-color="#607bc8"/><stop offset="0.45" stop-color="#5473c2"/><stop offset="1" stop-color="#5473c2"/></linearGradient>
<rect x="444.5" y="113.55" width="194.0" height="15.95" fill="url(#gb1)"/>
<linearGradient id="gb2" x1="0" x2="1" y1="0" y2="0"><stop offset="0" stop-color="#5473c2"/><stop offset="0.39" stop-color="#6580c8"/><stop offset="0.45" stop-color="#c4cdea"/><stop offset="1" stop-color="#ccd3ec"/></linearGradient>
<rect x="444.5" y="128.9" width="194.0" height="15.95" fill="url(#gb2)"/>
<linearGradient id="gb3" x1="0" x2="1" y1="0" y2="0"><stop offset="0" stop-color="#5473c2"/><stop offset="1" stop-color="#5473c2"/></linearGradient>
<rect x="444.5" y="144.25" width="194.0" height="15.35" fill="url(#gb3)"/>
<rect x="444.5" y="98.2" width="194.0" height="61.4" fill="#fff" opacity="0.38" filter="url(#speck2)"/>
<rect x="444.5" y="26.2" width="194.0" height="61.4" fill="none" stroke="#4a52b0" stroke-width="0.9"/>
<rect x="638.5" y="26.2" width="21" height="61.4" fill="#fff" stroke="#4a52b0" stroke-width="0.9"/>
<path d="M638.5,41.55 h21 M638.5,56.9 h21 M638.5,72.25 h21 " stroke="#4a52b0" stroke-width="0.9"/>
<rect x="444.5" y="98.2" width="194.0" height="61.4" fill="none" stroke="#4a52b0" stroke-width="0.9"/>
<rect x="638.5" y="98.2" width="21" height="61.4" fill="#fff" stroke="#4a52b0" stroke-width="0.9"/>
<path d="M638.5,113.55 h21 M638.5,128.9 h21 M638.5,144.25 h21 " stroke="#4a52b0" stroke-width="0.9"/>
<path d="M452.5,26.2 v2.7 M479.5,26.2 v2.7 M506.6,26.2 v2.7 M533.8,26.2 v2.7 M566.3,26.2 v2.7 M599,26.2 v2.7 M631.6,26.2 v2.7 M452.5,159.6 v-2.7 M479.5,159.6 v-2.7 M506.6,159.6 v-2.7 M533.8,159.6 v-2.7 M566.3,159.6 v-2.7 M599,159.6 v-2.7 M631.6,159.6 v-2.7 " stroke="#000" stroke-width="0.9"/>
<text x="640.2" y="36.1" font-size="6.5" fill="#555"><tspan font-style="italic">p</tspan><tspan font-size="4.5" dy="-2.9">(m)</tspan><tspan dy="2.9">(0)</tspan></text>
<text x="640.2" y="51.45" font-size="6.5" fill="#555"><tspan font-style="italic">p</tspan><tspan font-size="4.5" dy="-2.9">(m)</tspan><tspan dy="2.9">(1)</tspan></text>
<text x="640.2" y="66.8" font-size="6.5" fill="#555"><tspan font-style="italic">p</tspan><tspan font-size="4.5" dy="-2.9">(m)</tspan><tspan dy="2.9">(2)</tspan></text>
<text x="640.2" y="82.15" font-size="6.5" fill="#555"><tspan font-style="italic">p</tspan><tspan font-size="4.5" dy="-2.9">(m)</tspan><tspan dy="2.9">(3)</tspan></text>
<text x="640.2" y="108.1" font-size="6.5" fill="#555"><tspan font-style="italic">p</tspan><tspan font-size="4.5" dy="-2.9">(g)</tspan><tspan dy="2.9">(0)</tspan></text>
<text x="640.2" y="123.45" font-size="6.5" fill="#555"><tspan font-style="italic">p</tspan><tspan font-size="4.5" dy="-2.9">(g)</tspan><tspan dy="2.9">(1)</tspan></text>
<text x="640.2" y="138.8" font-size="6.5" fill="#555"><tspan font-style="italic">p</tspan><tspan font-size="4.5" dy="-2.9">(g)</tspan><tspan dy="2.9">(2)</tspan></text>
<text x="640.2" y="154.15" font-size="6.5" fill="#555"><tspan font-style="italic">p</tspan><tspan font-size="4.5" dy="-2.9">(g)</tspan><tspan dy="2.9">(3)</tspan></text>
<text x="414.4" y="51" font-size="9.8" fill="#333" text-anchor="middle">Even site</text>
<text x="415.6" y="63.3" font-size="9.8" fill="#333" text-anchor="middle">Matter</text>
<text x="415.5" y="132.4" font-size="9.8" fill="#333" text-anchor="middle">Odd site</text>
<text x="415.5" y="145" font-size="9.8" fill="#333" text-anchor="middle">Gauge field</text>
<text x="428.8" y="108.9" font-size="7.9" fill="#aaa" text-anchor="middle">71 sites</text>
<path d="M434,98.2 H444 M434,113.4 H444" stroke="#aaa" stroke-width="0.7"/>
<path d="M439.2,91.5 V96 M439.2,115.5 V120" stroke="#aaa" stroke-width="0.6"/>
<path d="M439.2,97.2 l-1,-2 h2z M439.2,114.4 l-1,2 h2z" fill="#aaa"/>
<rect x="667.1" y="126" width="2.8" height="35" fill="url(#cbar)"/>
<text x="673" y="128.2" font-size="8.4" fill="#333">1</text>
<text x="672.6" y="163" font-size="8.4" fill="#333">0</text>
<text x="387.2" y="176.9" font-size="11" fill="#111" font-weight="bold">c</text>
<path d="M452.3,183.24 L453.04,183.24 L453.79,183.25 L454.53,183.25 L455.28,183.26 L456.02,183.27 L456.77,183.28 L457.51,183.29 L458.26,183.3 L459.01,183.3 L459.75,183.31 L460.5,183.32 L461.24,183.33 L461.99,183.34 L462.73,183.34 L463.48,183.35 L464.23,183.36 L464.97,183.37 L465.72,183.38 L466.46,183.38 L467.21,183.39 L467.96,183.4 L468.7,183.41 L469.45,183.42 L470.19,183.42 L470.94,183.43 L471.68,183.44 L472.43,183.45 L473.18,183.46 L473.92,183.47 L474.67,183.47 L475.41,183.48 L476.16,183.49 L476.91,183.5 L477.65,183.51 L478.4,183.51 L479.14,183.52 L479.88,183.53 L480.62,183.55 L481.35,183.58 L482.08,183.62 L482.82,183.67 L483.55,183.73 L484.28,183.8 L485.02,183.88 L485.77,183.97 L486.51,184.05 L487.26,184.14 L488,184.22 L488.75,184.3 L489.49,184.39 L490.24,184.47 L490.99,184.55 L491.73,184.64 L492.48,184.72 L493.22,184.81 L493.96,184.89 L494.7,185 L495.42,185.13 L496.14,185.28 L496.86,185.44 L497.58,185.61 L498.3,185.8 L499.02,186 L499.75,186.22 L500.48,186.45 L501.21,186.67 L501.93,186.89 L502.65,187.12 L503.36,187.37 L504.06,187.64 L504.77,187.92 L505.47,188.22 L506.19,188.55 L506.9,188.89 L507.63,189.23 L508.33,189.57 L509.01,189.9 L509.65,190.28 L510.28,190.71 L510.91,191.2 L511.55,191.76 L512.2,192.38 L512.86,193.09 L513.54,193.86 L514.21,194.64 L514.89,195.47 L515.56,196.35 L516.24,197.29 L516.92,198.28 L517.59,199.34 L518.28,200.45 L518.97,201.62 L519.67,202.77 L520.37,204.01 L521.06,205.33 L521.76,206.73 L522.46,208.24 L523.17,209.83 L523.88,211.53 L524.59,213.32 L525.29,215.09 L526,217.03 L526.71,219.11 L527.41,221.37 L528.13,223.79 L528.84,226.38 L529.56,229.14 L530.28,232.02 L531,234.85 L531.73,237.64 L532.46,240.36 L533.19,243.03 L533.86,245.68 L534.53,248.12 L535.21,250.44 L535.89,252.61 L536.58,254.64 L537.29,256.56 L538.01,258.36 L538.76,259.9 L539.57,261.32 L540.39,262.6 L541.25,263.77 L542.19,264.86 L543.16,265.81 L544.16,266.54 L545.14,267.19 L546.04,267.71 L546.96,268.19 L547.89,268.62 L548.79,268.97 L549.6,269.24 L550.33,269.36 L550.96,269.49 L551.56,269.63 L552.18,269.81 L552.8,270.02 L553.44,270.27 L554.12,270.57 L554.82,270.91 L555.55,271.27 L556.29,271.65 L557.02,272.04 L557.76,272.45 L558.48,272.9 L559.21,273.36 L559.94,273.85 L560.67,274.36 L561.4,274.86 L562.13,275.38 L562.85,275.91 L563.57,276.47 L564.29,277.05 L565.02,277.66 L565.76,278.29 L566.5,278.96 L567.26,279.63 L568.02,280.32 L568.77,281.01 L569.53,281.71 L570.28,282.42 L571.04,283.13 L571.79,283.86 L572.55,284.59 L573.32,285.33 L574.09,286.08 L574.89,286.85 L575.7,287.59 L576.53,288.3 L577.37,288.97 L578.21,289.59 L579.06,290.16 L579.89,290.67 L580.7,291.12 L581.48,291.56 L582.26,291.99 L583.05,292.43 L583.85,292.84 L584.67,293.24 L585.5,293.61 L586.32,293.96 L587.14,294.29 L587.94,294.58 L588.73,294.83 L589.5,295.08 L590.26,295.32 L591.04,295.57 L591.82,295.8 L592.62,296.02 L593.42,296.22 L594.23,296.4 L595.03,296.57 L595.82,296.7 L596.59,296.82 L597.35,296.94 L598.11,297.05 L598.87,297.17 L599.64,297.28 L600.42,297.37 L601.2,297.46 L601.98,297.54 L602.76,297.61 L603.53,297.67 L604.29,297.72 L605.05,297.77 L605.79,297.82 L606.54,297.86 L607.28,297.91 L608.03,297.96 L608.78,298 L609.52,298.05 L610.27,298.1 L611.01,298.14 L611.76,298.19 L612.51,298.24 L613.26,298.28 L614.01,298.33 L614.77,298.37 L615.53,298.41 L616.29,298.44 L617.05,298.47 L617.81,298.49 L618.57,298.5 L619.33,298.51 L620.08,298.52 L620.82,298.53 L621.57,298.54 L622.31,298.54 L623.06,298.55 L623.81,298.56 L624.55,298.57 L625.3,298.58 L626.04,298.59 L626.79,298.6 L627.54,298.61 L628.29,298.62 L629.04,298.62 L629.79,298.63 L630.54,298.63 L631.28,298.63 L631.32,294.43 L630.57,294.42 L629.83,294.41 L629.09,294.4 L628.35,294.39 L627.61,294.37 L626.86,294.35 L626.12,294.34 L625.37,294.32 L624.62,294.3 L623.88,294.29 L623.13,294.27 L622.39,294.25 L621.64,294.24 L620.89,294.22 L620.15,294.21 L619.41,294.19 L618.67,294.17 L617.94,294.15 L617.21,294.13 L616.48,294.09 L615.75,294.06 L615.02,294.01 L614.28,293.97 L613.54,293.91 L612.8,293.86 L612.06,293.8 L611.31,293.75 L610.57,293.7 L609.82,293.64 L609.07,293.59 L608.33,293.53 L607.58,293.48 L606.84,293.42 L606.09,293.37 L605.35,293.32 L604.61,293.26 L603.88,293.21 L603.16,293.15 L602.44,293.07 L601.73,292.99 L601.02,292.89 L600.31,292.78 L599.59,292.65 L598.86,292.52 L598.12,292.38 L597.39,292.24 L596.68,292.11 L595.97,291.96 L595.28,291.8 L594.59,291.62 L593.9,291.42 L593.21,291.21 L592.51,290.97 L591.79,290.72 L591.06,290.46 L590.34,290.2 L589.63,289.95 L588.95,289.68 L588.28,289.39 L587.6,289.08 L586.94,288.73 L586.27,288.35 L585.58,287.94 L584.88,287.5 L584.16,287.04 L583.45,286.59 L582.77,286.16 L582.11,285.7 L581.46,285.21 L580.81,284.68 L580.16,284.1 L579.5,283.48 L578.82,282.8 L578.12,282.05 L577.41,281.29 L576.68,280.52 L575.95,279.74 L575.21,278.96 L574.47,278.19 L573.74,277.43 L573,276.67 L572.27,275.91 L571.54,275.17 L570.8,274.42 L570.05,273.67 L569.3,272.93 L568.53,272.21 L567.76,271.51 L566.99,270.83 L566.22,270.17 L565.46,269.54 L564.69,268.94 L563.93,268.34 L563.18,267.75 L562.41,267.18 L561.64,266.62 L560.88,266.05 L560.13,265.5 L559.38,264.96 L558.61,264.44 L557.82,263.9 L557.01,263.39 L556.16,262.9 L555.29,262.44 L554.41,262.02 L553.52,261.64 L552.66,261.32 L551.9,261.06 L551.21,260.95 L550.62,260.83 L550.07,260.69 L549.49,260.5 L548.9,260.27 L548.39,260.05 L547.9,259.83 L547.38,259.45 L546.83,258.95 L546.2,258.26 L545.52,257.41 L544.84,256.43 L544.1,255.3 L543.33,253.85 L542.55,252.23 L541.74,250.42 L540.93,248.45 L540.12,246.32 L539.3,244.02 L538.47,241.5 L537.71,238.89 L536.95,236.21 L536.19,233.47 L535.42,230.66 L534.65,227.77 L533.88,224.98 L533.1,222.33 L532.32,219.83 L531.54,217.49 L530.75,215.3 L529.96,213.29 L529.18,211.44 L528.4,209.6 L527.62,207.85 L526.83,206.19 L526.04,204.6 L525.25,203.11 L524.45,201.7 L523.66,200.39 L522.87,199.18 L522.06,197.98 L521.26,196.85 L520.44,195.76 L519.63,194.73 L518.81,193.75 L517.99,192.83 L517.18,191.97 L516.36,191.18 L515.54,190.37 L514.72,189.64 L513.87,188.96 L513.02,188.34 L512.16,187.8 L511.3,187.33 L510.45,186.94 L509.63,186.64 L508.85,186.35 L508.08,186.06 L507.31,185.77 L506.53,185.5 L505.74,185.24 L504.95,185 L504.17,184.79 L503.38,184.59 L502.61,184.41 L501.84,184.25 L501.08,184.09 L500.32,183.93 L499.55,183.78 L498.78,183.63 L498.01,183.5 L497.24,183.39 L496.46,183.29 L495.69,183.21 L494.93,183.15 L494.17,183.1 L493.42,183.02 L492.67,182.94 L491.93,182.86 L491.18,182.78 L490.43,182.7 L489.69,182.62 L488.94,182.54 L488.2,182.46 L487.45,182.38 L486.7,182.3 L485.96,182.22 L485.21,182.14 L484.46,182.06 L483.7,181.99 L482.94,181.93 L482.18,181.88 L481.43,181.84 L480.67,181.81 L479.91,181.8 L479.16,181.79 L478.41,181.79 L477.67,181.78 L476.92,181.78 L476.17,181.78 L475.43,181.77 L474.68,181.77 L473.94,181.76 L473.19,181.76 L472.44,181.75 L471.7,181.75 L470.95,181.74 L470.21,181.74 L469.46,181.73 L468.72,181.73 L467.97,181.73 L467.22,181.72 L466.48,181.72 L465.73,181.71 L464.99,181.71 L464.24,181.7 L463.49,181.7 L462.75,181.69 L462,181.69 L461.26,181.68 L460.51,181.68 L459.77,181.68 L459.02,181.67 L458.27,181.67 L457.53,181.66 L456.78,181.66 L456.04,181.65 L455.29,181.65 L454.54,181.64 L453.8,181.64 L453.05,181.64 L452.3,181.64Z" fill="#f9c29c" opacity="0.95"/>
<path d="M452.3,308.8 L453.05,308.8 L453.79,308.8 L454.54,308.8 L455.28,308.81 L456.03,308.81 L456.78,308.81 L457.52,308.81 L458.27,308.81 L459.01,308.81 L459.76,308.82 L460.5,308.82 L461.25,308.82 L462,308.82 L462.74,308.82 L463.49,308.82 L464.23,308.83 L464.98,308.83 L465.73,308.83 L466.47,308.83 L467.22,308.83 L467.96,308.83 L468.71,308.84 L469.45,308.84 L470.2,308.84 L470.95,308.84 L471.69,308.84 L472.44,308.84 L473.18,308.85 L473.93,308.85 L474.68,308.85 L475.42,308.85 L476.17,308.85 L476.91,308.85 L477.66,308.86 L478.4,308.86 L479.15,308.86 L479.9,308.86 L480.64,308.86 L481.39,308.86 L482.13,308.87 L482.88,308.87 L483.62,308.87 L484.37,308.87 L485.12,308.87 L485.86,308.88 L486.61,308.88 L487.35,308.88 L488.1,308.88 L488.85,308.88 L489.59,308.88 L490.34,308.88 L491.08,308.89 L491.83,308.89 L492.57,308.89 L493.32,308.89 L494.07,308.89 L494.82,308.89 L495.58,308.89 L496.34,308.87 L497.1,308.83 L497.86,308.81 L498.62,308.77 L499.38,308.72 L500.14,308.67 L500.89,308.61 L501.65,308.55 L502.42,308.49 L503.2,308.4 L504,308.27 L504.79,308.11 L505.59,307.91 L506.41,307.68 L507.23,307.4 L508.06,307.03 L508.9,306.58 L509.72,306.08 L510.55,305.54 L511.38,304.93 L512.2,304.27 L513.02,303.54 L513.84,302.81 L514.66,301.99 L515.5,301.07 L516.32,300.06 L517.15,298.96 L517.97,297.79 L518.78,296.54 L519.59,295.2 L520.4,293.87 L521.21,292.43 L522.03,290.9 L522.84,289.27 L523.65,287.55 L524.47,285.73 L525.27,283.83 L526.08,281.84 L526.88,279.84 L527.69,277.76 L528.49,275.59 L529.3,273.32 L530.1,270.97 L530.91,268.53 L531.71,266 L532.51,263.4 L533.36,260.81 L534.2,258.23 L535.05,255.65 L535.89,253.08 L536.73,250.52 L537.57,248.06 L538.41,245.7 L539.24,243.45 L540.06,241.32 L540.86,239.42 L541.66,237.74 L542.45,236.26 L543.16,234.85 L543.86,233.58 L544.55,232.43 L545.2,231.51 L545.81,230.74 L546.43,230.05 L546.99,229.5 L547.5,229.08 L548,228.73 L548.53,228.47 L549.11,228.18 L549.79,227.86 L550.46,227.55 L551.13,227.26 L551.82,226.99 L552.57,226.7 L553.36,226.3 L554.21,225.82 L555.09,225.28 L555.96,224.71 L556.8,224.09 L557.64,223.43 L558.44,222.76 L559.2,222.07 L559.94,221.39 L560.65,220.73 L561.37,220.07 L562.09,219.4 L562.82,218.75 L563.56,218.09 L564.29,217.44 L565.02,216.78 L565.75,216.12 L566.48,215.46 L567.2,214.81 L567.93,214.16 L568.65,213.5 L569.38,212.85 L570.1,212.19 L570.83,211.54 L571.54,210.89 L572.25,210.26 L572.96,209.64 L573.67,209.02 L574.38,208.42 L575.09,207.83 L575.81,207.25 L576.52,206.68 L577.21,206.11 L577.9,205.59 L578.57,205.09 L579.23,204.63 L579.9,204.19 L580.56,203.78 L581.24,203.38 L581.92,203.01 L582.61,202.63 L583.29,202.28 L583.96,201.95 L584.63,201.64 L585.3,201.36 L585.96,201.09 L586.65,200.84 L587.34,200.61 L588.05,200.39 L588.78,200.17 L589.5,199.96 L590.21,199.75 L590.93,199.56 L591.64,199.37 L592.35,199.19 L593.06,199.03 L593.76,198.87 L594.47,198.73 L595.19,198.59 L595.9,198.46 L596.62,198.34 L597.35,198.23 L598.08,198.12 L598.82,198.01 L599.56,197.9 L600.3,197.79 L601.03,197.68 L601.76,197.58 L602.49,197.49 L603.23,197.4 L603.96,197.32 L604.7,197.24 L605.45,197.15 L606.19,197.07 L606.94,196.99 L607.68,196.91 L608.43,196.83 L609.17,196.75 L609.92,196.66 L610.66,196.58 L611.41,196.5 L612.15,196.42 L612.9,196.34 L613.64,196.25 L614.37,196.17 L615.11,196.1 L615.84,196.03 L616.56,195.96 L617.29,195.9 L618.02,195.85 L618.75,195.8 L619.49,195.76 L620.23,195.71 L620.98,195.67 L621.72,195.63 L622.47,195.58 L623.21,195.54 L623.96,195.49 L624.7,195.45 L625.45,195.41 L626.2,195.36 L626.94,195.32 L627.69,195.27 L628.42,195.23 L629.15,195.19 L629.88,195.16 L630.61,195.14 L631.36,195.11 L631.24,190.61 L630.5,190.63 L629.74,190.64 L628.98,190.65 L628.22,190.68 L627.46,190.72 L626.71,190.75 L625.96,190.78 L625.22,190.81 L624.47,190.84 L623.72,190.87 L622.98,190.91 L622.23,190.94 L621.49,190.97 L620.74,191 L619.99,191.03 L619.24,191.06 L618.49,191.1 L617.73,191.13 L616.97,191.18 L616.2,191.23 L615.44,191.28 L614.68,191.34 L613.92,191.41 L613.16,191.48 L612.41,191.55 L611.66,191.62 L610.92,191.69 L610.17,191.76 L609.43,191.83 L608.68,191.89 L607.93,191.96 L607.19,192.03 L606.44,192.1 L605.69,192.17 L604.95,192.24 L604.2,192.31 L603.44,192.38 L602.69,192.46 L601.93,192.53 L601.17,192.62 L600.41,192.7 L599.65,192.78 L598.9,192.86 L598.14,192.95 L597.39,193.04 L596.64,193.13 L595.87,193.22 L595.1,193.33 L594.32,193.44 L593.54,193.56 L592.76,193.69 L591.98,193.84 L591.19,193.99 L590.41,194.16 L589.63,194.34 L588.85,194.53 L588.08,194.72 L587.3,194.92 L586.54,195.13 L585.76,195.35 L584.96,195.56 L584.15,195.79 L583.33,196.06 L582.5,196.35 L581.68,196.67 L580.86,197.01 L580.05,197.37 L579.24,197.75 L578.43,198.13 L577.62,198.55 L576.79,199 L575.97,199.48 L575.14,199.99 L574.32,200.52 L573.51,201.08 L572.72,201.65 L571.93,202.22 L571.16,202.78 L570.38,203.37 L569.6,203.96 L568.81,204.55 L568.03,205.15 L567.25,205.76 L566.47,206.38 L565.7,206.99 L564.94,207.6 L564.17,208.2 L563.41,208.81 L562.64,209.42 L561.87,210.03 L561.11,210.63 L560.34,211.24 L559.58,211.84 L558.82,212.44 L558.07,213.03 L557.31,213.61 L556.54,214.17 L555.76,214.72 L554.99,215.27 L554.23,215.79 L553.51,216.3 L552.81,216.74 L552.15,217.12 L551.51,217.46 L550.88,217.76 L550.27,218.01 L549.63,218.25 L548.93,218.48 L548.19,218.82 L547.39,219.22 L546.56,219.65 L545.74,220.1 L544.93,220.57 L544.02,221.12 L543.06,221.74 L542.07,222.54 L541.08,223.48 L540.16,224.5 L539.28,225.6 L538.4,226.84 L537.56,228.15 L536.75,229.65 L535.96,231.23 L535.19,232.9 L534.48,234.7 L533.79,236.7 L533.1,238.87 L532.43,241.21 L531.77,243.62 L531.11,246.1 L530.46,248.67 L529.81,251.33 L529.16,253.97 L528.51,256.61 L527.87,259.24 L527.22,261.87 L526.53,264.49 L525.84,267 L525.16,269.42 L524.47,271.75 L523.78,274 L523.1,276.15 L522.41,278.22 L521.72,280.2 L521.04,282.18 L520.35,284.07 L519.67,285.85 L518.99,287.53 L518.31,289.12 L517.64,290.62 L516.96,292.02 L516.28,293.34 L515.6,294.65 L514.91,295.88 L514.24,297.01 L513.58,298.06 L512.91,299.01 L512.25,299.88 L511.59,300.68 L510.92,301.4 L510.24,302.13 L509.57,302.8 L508.91,303.39 L508.25,303.93 L507.58,304.39 L506.92,304.78 L506.26,305.11 L505.59,305.37 L504.92,305.6 L504.22,305.8 L503.53,305.98 L502.83,306.13 L502.12,306.25 L501.4,306.34 L500.67,306.43 L499.93,306.53 L499.19,306.62 L498.46,306.7 L497.73,306.78 L497,306.84 L496.27,306.87 L495.54,306.89 L494.8,306.91 L494.06,306.91 L493.32,306.91 L492.57,306.91 L491.83,306.91 L491.08,306.91 L490.34,306.91 L489.59,306.92 L488.85,306.92 L488.1,306.92 L487.35,306.92 L486.61,306.92 L485.86,306.92 L485.12,306.93 L484.37,306.93 L483.62,306.93 L482.88,306.93 L482.13,306.93 L481.39,306.94 L480.64,306.94 L479.9,306.94 L479.15,306.94 L478.4,306.94 L477.66,306.94 L476.91,306.94 L476.17,306.95 L475.42,306.95 L474.68,306.95 L473.93,306.95 L473.18,306.95 L472.44,306.95 L471.69,306.96 L470.95,306.96 L470.2,306.96 L469.45,306.96 L468.71,306.96 L467.96,306.96 L467.22,306.97 L466.47,306.97 L465.73,306.97 L464.98,306.97 L464.23,306.97 L463.49,306.97 L462.74,306.98 L462,306.98 L461.25,306.98 L460.5,306.98 L459.76,306.98 L459.01,306.98 L458.27,306.99 L457.52,306.99 L456.78,306.99 L456.03,306.99 L455.28,306.99 L454.54,307 L453.79,307 L453.05,307 L452.3,307Z" fill="#aeb0f7" opacity="0.95"/>
<path d="M452.3,182.44 L453.05,182.44 L453.79,182.45 L454.54,182.45 L455.28,182.46 L456.03,182.46 L456.78,182.47 L457.52,182.47 L458.27,182.48 L459.01,182.49 L459.76,182.49 L460.5,182.5 L461.25,182.51 L462,182.51 L462.74,182.52 L463.49,182.53 L464.23,182.53 L464.98,182.54 L465.73,182.54 L466.47,182.55 L467.22,182.56 L467.96,182.56 L468.71,182.57 L469.45,182.58 L470.2,182.58 L470.95,182.59 L471.69,182.59 L472.44,182.6 L473.18,182.61 L473.93,182.61 L474.68,182.62 L475.42,182.63 L476.17,182.63 L476.91,182.64 L477.66,182.64 L478.4,182.65 L479.15,182.66 L479.9,182.66 L480.64,182.68 L481.39,182.71 L482.13,182.75 L482.88,182.8 L483.62,182.86 L484.37,182.93 L485.12,183.01 L485.86,183.09 L486.61,183.17 L487.35,183.26 L488.1,183.34 L488.85,183.42 L489.59,183.5 L490.34,183.58 L491.08,183.67 L491.83,183.75 L492.57,183.83 L493.32,183.91 L494.07,183.99 L494.81,184.08 L495.56,184.17 L496.3,184.29 L497.05,184.41 L497.8,184.56 L498.54,184.72 L499.29,184.89 L500.03,185.08 L500.78,185.27 L501.52,185.46 L502.27,185.65 L503.02,185.85 L503.76,186.08 L504.51,186.32 L505.25,186.58 L506,186.86 L506.75,187.16 L507.49,187.47 L508.24,187.79 L508.98,188.1 L509.73,188.42 L510.48,188.8 L511.22,189.25 L511.97,189.77 L512.71,190.36 L513.46,191.01 L514.2,191.73 L514.95,192.52 L515.7,193.31 L516.44,194.15 L517.19,195.05 L517.93,196.01 L518.68,197.02 L519.42,198.09 L520.17,199.22 L520.92,200.4 L521.66,201.58 L522.41,202.85 L523.15,204.22 L523.9,205.67 L524.65,207.21 L525.39,208.84 L526.14,210.57 L526.88,212.38 L527.63,214.19 L528.38,216.17 L529.12,218.3 L529.87,220.6 L530.61,223.06 L531.36,225.68 L532.1,228.46 L532.85,231.34 L533.6,234.16 L534.34,236.92 L535.09,239.63 L535.83,242.27 L536.58,244.85 L537.32,247.22 L538.07,249.44 L538.82,251.52 L539.56,253.44 L540.31,255.21 L541.05,256.83 L541.8,258.17 L542.55,259.37 L543.29,260.43 L544.04,261.36 L544.78,262.16 L545.53,262.82 L546.27,263.3 L547.02,263.73 L547.77,264.11 L548.51,264.44 L549.26,264.73 L550,264.96 L550.75,265.15 L551.5,265.34 L552.24,265.57 L552.99,265.83 L553.73,266.12 L554.48,266.46 L555.23,266.83 L555.97,267.23 L556.72,267.67 L557.46,268.12 L558.21,268.57 L558.95,269.05 L559.7,269.53 L560.45,270.04 L561.19,270.56 L561.94,271.09 L562.68,271.65 L563.43,272.2 L564.17,272.77 L564.92,273.37 L565.67,273.99 L566.41,274.63 L567.16,275.29 L567.9,275.98 L568.65,276.69 L569.4,277.4 L570.14,278.12 L570.89,278.84 L571.63,279.57 L572.38,280.3 L573.12,281.05 L573.87,281.8 L574.62,282.55 L575.36,283.31 L576.11,284.07 L576.85,284.82 L577.6,285.54 L578.35,286.2 L579.09,286.82 L579.84,287.4 L580.58,287.93 L581.33,288.42 L582.07,288.86 L582.82,289.3 L583.57,289.74 L584.31,290.18 L585.06,290.6 L585.8,290.98 L586.55,291.34 L587.3,291.68 L588.04,291.98 L588.79,292.26 L589.53,292.52 L590.28,292.77 L591.02,293.02 L591.77,293.27 L592.52,293.51 L593.26,293.72 L594.01,293.92 L594.75,294.1 L595.5,294.26 L596.25,294.41 L596.99,294.53 L597.74,294.66 L598.48,294.79 L599.23,294.91 L599.97,295.03 L600.72,295.13 L601.47,295.23 L602.21,295.31 L602.96,295.38 L603.7,295.44 L604.45,295.49 L605.2,295.54 L605.94,295.59 L606.69,295.64 L607.43,295.69 L608.18,295.74 L608.92,295.79 L609.67,295.84 L610.42,295.9 L611.16,295.95 L611.91,296 L612.65,296.05 L613.4,296.1 L614.15,296.15 L614.89,296.19 L615.64,296.23 L616.38,296.27 L617.13,296.3 L617.88,296.32 L618.62,296.34 L619.37,296.35 L620.11,296.36 L620.86,296.37 L621.6,296.39 L622.35,296.4 L623.1,296.41 L623.84,296.42 L624.59,296.44 L625.33,296.45 L626.08,296.46 L626.82,296.48 L627.57,296.49 L628.32,296.5 L629.06,296.51 L629.81,296.52 L630.55,296.53 L631.3,296.53" fill="none" stroke="#ec8a78" stroke-width="0.5"/>
<path d="M452.3,307.9 L453.05,307.9 L453.79,307.9 L454.54,307.9 L455.28,307.9 L456.03,307.9 L456.78,307.9 L457.52,307.9 L458.27,307.9 L459.01,307.9 L459.76,307.9 L460.5,307.9 L461.25,307.9 L462,307.9 L462.74,307.9 L463.49,307.9 L464.23,307.9 L464.98,307.9 L465.73,307.9 L466.47,307.9 L467.22,307.9 L467.96,307.9 L468.71,307.9 L469.45,307.9 L470.2,307.9 L470.95,307.9 L471.69,307.9 L472.44,307.9 L473.18,307.9 L473.93,307.9 L474.68,307.9 L475.42,307.9 L476.17,307.9 L476.91,307.9 L477.66,307.9 L478.4,307.9 L479.15,307.9 L479.9,307.9 L480.64,307.9 L481.39,307.9 L482.13,307.9 L482.88,307.9 L483.62,307.9 L484.37,307.9 L485.12,307.9 L485.86,307.9 L486.61,307.9 L487.35,307.9 L488.1,307.9 L488.85,307.9 L489.59,307.9 L490.34,307.9 L491.08,307.9 L491.83,307.9 L492.57,307.9 L493.32,307.9 L494.07,307.9 L494.81,307.9 L495.56,307.89 L496.3,307.87 L497.05,307.84 L497.8,307.79 L498.54,307.74 L499.29,307.67 L500.03,307.6 L500.78,307.52 L501.52,307.45 L502.27,307.37 L503.02,307.26 L503.76,307.12 L504.51,306.96 L505.25,306.75 L506,306.52 L506.75,306.26 L507.49,305.9 L508.24,305.49 L508.98,305.01 L509.73,304.47 L510.48,303.86 L511.22,303.2 L511.97,302.47 L512.71,301.75 L513.46,300.94 L514.2,300.04 L514.95,299.06 L515.7,297.99 L516.44,296.83 L517.19,295.6 L517.93,294.27 L518.68,292.95 L519.42,291.53 L520.17,290.01 L520.92,288.4 L521.66,286.7 L522.41,284.9 L523.15,283.01 L523.9,281.02 L524.65,279.03 L525.39,276.96 L526.14,274.79 L526.88,272.54 L527.63,270.19 L528.38,267.76 L529.12,265.24 L529.87,262.64 L530.61,260.03 L531.36,257.42 L532.1,254.81 L532.85,252.2 L533.6,249.6 L534.34,247.08 L535.09,244.66 L535.83,242.33 L536.58,240.09 L537.32,238.06 L538.07,236.22 L538.82,234.58 L539.56,233.04 L540.31,231.61 L541.05,230.29 L541.8,229.18 L542.55,228.17 L543.29,227.28 L544.04,226.49 L544.78,225.81 L545.53,225.24 L546.27,224.8 L547.02,224.38 L547.77,223.98 L548.51,223.6 L549.26,223.24 L550,222.9 L550.75,222.59 L551.5,222.27 L552.24,221.92 L552.99,221.52 L553.73,221.08 L554.48,220.61 L555.23,220.09 L555.97,219.53 L556.72,218.93 L557.46,218.33 L558.21,217.73 L558.95,217.12 L559.7,216.5 L560.45,215.89 L561.19,215.26 L561.94,214.64 L562.68,214.01 L563.43,213.38 L564.17,212.75 L564.92,212.11 L565.67,211.48 L566.41,210.85 L567.16,210.22 L567.9,209.59 L568.65,208.96 L569.4,208.33 L570.14,207.71 L570.89,207.09 L571.63,206.49 L572.38,205.89 L573.12,205.31 L573.87,204.73 L574.62,204.16 L575.36,203.6 L576.11,203.05 L576.85,202.54 L577.6,202.05 L578.35,201.59 L579.09,201.16 L579.84,200.76 L580.58,200.38 L581.33,200 L582.07,199.64 L582.82,199.31 L583.57,199 L584.31,198.71 L585.06,198.44 L585.8,198.2 L586.55,197.98 L587.3,197.76 L588.04,197.55 L588.79,197.34 L589.53,197.14 L590.28,196.95 L591.02,196.77 L591.77,196.59 L592.52,196.43 L593.26,196.28 L594.01,196.14 L594.75,196.01 L595.5,195.89 L596.25,195.78 L596.99,195.68 L597.74,195.58 L598.48,195.48 L599.23,195.38 L599.97,195.28 L600.72,195.19 L601.47,195.1 L602.21,195.01 L602.96,194.93 L603.7,194.85 L604.45,194.77 L605.2,194.7 L605.94,194.62 L606.69,194.55 L607.43,194.47 L608.18,194.4 L608.92,194.32 L609.67,194.24 L610.42,194.17 L611.16,194.09 L611.91,194.02 L612.65,193.94 L613.4,193.87 L614.15,193.79 L614.89,193.72 L615.64,193.65 L616.38,193.6 L617.13,193.54 L617.88,193.49 L618.62,193.45 L619.37,193.41 L620.11,193.37 L620.86,193.34 L621.6,193.3 L622.35,193.26 L623.1,193.22 L623.84,193.18 L624.59,193.15 L625.33,193.11 L626.08,193.07 L626.82,193.03 L627.57,192.99 L628.32,192.96 L629.06,192.92 L629.81,192.9 L630.55,192.88 L631.3,192.86" fill="none" stroke="#9497f0" stroke-width="0.5"/>
<path d="M452.3,182.44 L453.05,182.44 L453.79,182.45 L454.54,182.45 L455.28,182.46 L456.03,182.46 L456.78,182.47 L457.52,182.47 L458.27,182.48 L459.01,182.49 L459.76,182.49 L460.5,182.5 L461.25,182.51 L462,182.51 L462.74,182.52 L463.49,182.53 L464.23,182.53 L464.98,182.54 L465.73,182.54 L466.47,182.55 L467.22,182.56 L467.96,182.56 L468.71,182.57 L469.45,182.58 L470.2,182.58 L470.95,182.59 L471.69,182.59 L472.44,182.6 L473.18,182.61 L473.93,182.61 L474.68,182.62 L475.42,182.63 L476.17,182.63 L476.91,182.64 L477.66,182.64 L478.4,182.65 L479.15,182.66 L479.9,182.66 L480.64,182.68 L481.39,182.71 L482.13,182.75 L482.88,182.8 L483.62,182.86 L484.37,182.93 L485.12,183.01 L485.86,183.09 L486.61,183.17 L487.35,183.26 L488.1,183.34 L488.85,183.42 L489.59,183.5 L490.34,183.58 L491.08,183.67 L491.83,183.75 L492.57,183.83 L493.32,183.91 L494.07,183.99 L494.81,184.08 L495.56,184.17 L496.3,184.29 L497.05,184.41 L497.8,184.56 L498.54,184.72 L499.29,184.89 L500.03,185.08 L500.78,185.27 L501.52,185.46 L502.27,185.65 L503.02,185.85 L503.76,186.08 L504.51,186.32 L505.25,186.58 L506,186.86 L506.75,187.16 L507.49,187.47 L508.24,187.79 L508.98,188.1 L509.73,188.42 L510.48,188.8 L511.22,189.25 L511.97,189.77 L512.71,190.36 L513.46,191.01 L514.2,191.73 L514.95,192.52 L515.7,193.31 L516.44,194.15 L517.19,195.05 L517.93,196.01 L518.68,197.02 L519.42,198.09 L520.17,199.22 L520.92,200.4 L521.66,201.58 L522.41,202.85 L523.15,204.22 L523.9,205.67 L524.65,207.21 L525.39,208.84 L526.14,210.57 L526.88,212.38 L527.63,214.19 L528.38,216.17 L529.12,218.3 L529.87,220.6 L530.61,223.06 L531.36,225.68 L532.1,228.46 L532.85,231.34 L533.6,234.16 L534.34,236.92 L535.09,239.63 L535.83,242.27 L536.58,244.85 L537.32,247.22 L538.07,249.44 L538.82,251.52 L539.56,253.44 L540.31,255.21 L541.05,256.83 L541.8,258.17 L542.55,259.37 L543.29,260.43 L544.04,261.36 L544.78,262.16 L545.53,262.82 L546.27,263.3 L547.02,263.73 L547.77,264.11 L548.51,264.44 L549.26,264.73 L550,264.96 L550.75,265.15 L551.5,265.34 L552.24,265.57 L552.99,265.83 L553.73,266.12 L554.48,266.46 L555.23,266.83 L555.97,267.23 L556.72,267.67 L557.46,268.12 L558.21,268.57 L558.95,269.05 L559.7,269.53 L560.45,270.04 L561.19,270.56 L561.94,271.09 L562.68,271.65 L563.43,272.2 L564.17,272.77 L564.92,273.63 L565.67,274.49 L566.41,275.37 L567.16,276.26 L567.9,277.17 L568.65,278.08 L569.4,278.99 L570.14,279.9 L570.89,280.81 L571.63,281.72 L572.38,282.62 L573.12,283.53 L573.87,284.43 L574.62,285.34 L575.36,286.24 L576.11,287.14 L576.85,288.02 L577.6,288.86 L578.35,289.65 L579.09,290.39 L579.84,291.08 L580.58,291.72 L581.33,292.3 L582.07,292.84 L582.82,293.38 L583.57,293.91 L584.31,294.44 L585.06,294.94 L585.8,295.41 L586.55,295.84 L587.3,296.25 L588.04,296.63 L588.79,296.97 L589.53,297.29 L590.28,297.61 L591.02,297.92 L591.77,298.23 L592.52,298.52 L593.26,298.79 L594.01,299.04 L594.75,299.26 L595.5,299.47 L596.25,299.66 L596.99,299.83 L597.74,300 L598.48,300.16 L599.23,300.33 L599.97,300.48 L600.72,300.62 L601.47,300.75 L602.21,300.86 L602.96,300.96 L603.7,301.05 L604.45,301.13 L605.2,301.21 L605.94,301.29 L606.69,301.36 L607.43,301.44 L608.18,301.51 L608.92,301.58 L609.67,301.65 L610.42,301.72 L611.16,301.79 L611.91,301.86 L612.65,301.93 L613.4,302 L614.15,302.07 L614.89,302.13 L615.64,302.18 L616.38,302.23 L617.13,302.27 L617.88,302.31 L618.62,302.34 L619.37,302.37 L620.11,302.39 L620.86,302.41 L621.6,302.44 L622.35,302.46 L623.1,302.48 L623.84,302.5 L624.59,302.53 L625.33,302.55 L626.08,302.57 L626.82,302.59 L627.57,302.61 L628.32,302.63 L629.06,302.65 L629.81,302.66 L630.55,302.68 L631.3,302.69" fill="none" stroke="#e0607a" stroke-width="0.6" stroke-dasharray="1.6,1.2"/>
<path d="M544.78,225.81 L545.53,225.24 L546.27,224.8 L547.02,224.38 L547.77,223.98 L548.51,223.6 L549.26,223.24 L550,222.9 L550.75,222.59 L551.5,222.27 L552.24,221.92 L552.99,221.52 L553.73,221.08 L554.48,220.61 L555.23,220.09 L555.97,219.53 L556.72,218.93 L557.46,218.33 L558.21,217.73 L558.95,217.12 L559.7,216.5 L560.45,215.64 L561.19,214.78 L561.94,213.93 L562.68,213.08 L563.43,212.24 L564.17,211.41 L564.92,210.58 L565.67,209.77 L566.41,208.96 L567.16,208.16 L567.9,207.36 L568.65,206.58 L569.4,205.79 L570.14,205.03 L570.89,204.28 L571.63,203.54 L572.38,202.82 L573.12,202.11 L573.87,201.42 L574.62,200.74 L575.36,200.06 L576.11,199.42 L576.85,198.81 L577.6,198.23 L578.35,197.67 L579.09,197.15 L579.84,196.67 L580.58,196.21 L581.33,195.75 L582.07,195.32 L582.82,194.92 L583.57,194.54 L584.31,194.18 L585.06,193.86 L585.8,193.55 L586.55,193.27 L587.3,193 L588.04,192.73 L588.79,192.47 L589.53,192.23 L590.28,191.99 L591.02,191.76 L591.77,191.54 L592.52,191.34 L593.26,191.16 L594.01,190.98 L594.75,190.81 L595.5,190.66 L596.25,190.51 L596.99,190.38 L597.74,190.25 L598.48,190.12 L599.23,189.99 L599.97,189.86 L600.72,189.74 L601.47,189.63 L602.21,189.52 L602.96,189.41 L603.7,189.31 L604.45,189.21 L605.2,189.12 L605.94,189.02 L606.69,188.93 L607.43,188.83 L608.18,188.74 L608.92,188.65 L609.67,188.56 L610.42,188.47 L611.16,188.38 L611.91,188.29 L612.65,188.2 L613.4,188.11 L614.15,188.02 L614.89,187.94 L615.64,187.86 L616.38,187.79 L617.13,187.73 L617.88,187.67 L618.62,187.62 L619.37,187.57 L620.11,187.52 L620.86,187.48 L621.6,187.43 L622.35,187.39 L623.1,187.34 L623.84,187.29 L624.59,187.25 L625.33,187.21 L626.08,187.16 L626.82,187.12 L627.57,187.07 L628.32,187.03 L629.06,186.99 L629.81,186.96 L630.55,186.94 L631.3,186.92" fill="none" stroke="#7a7ef0" stroke-width="0.6" stroke-dasharray="1.6,1.2"/>
<path d="M447.8,175.2 V314.1 H635.7 V175.2 H447.8" fill="none" stroke="#333" stroke-width="1"/>
<path d="M452.3,175.2 v2.6 M452.3,314.1 v-2.8 M482.13,175.2 v2.6 M482.13,314.1 v-2.8 M511.97,175.2 v2.6 M511.97,314.1 v-2.8 M541.8,175.2 v2.6 M541.8,314.1 v-2.8 M571.63,175.2 v2.6 M571.63,314.1 v-2.8 M601.47,175.2 v2.6 M601.47,314.1 v-2.8 M631.3,175.2 v2.6 M631.3,314.1 v-2.8 M447.8,307.9 h3 M635.7,307.9 h-2.5 M447.8,282.68 h3 M635.7,282.68 h-2.5 M447.8,257.46 h3 M635.7,257.46 h-2.5 M447.8,232.24 h3 M635.7,232.24 h-2.5 M447.8,207.02 h3 M635.7,207.02 h-2.5 M447.8,181.8 h3 M635.7,181.8 h-2.5 " stroke="#333" stroke-width="0.8"/>
<text x="444.4" y="184.7" font-size="8" fill="#c83c44" text-anchor="end">1.0</text>
<text x="444.4" y="209.92" font-size="8" fill="#c83c44" text-anchor="end">0.8</text>
<text x="444.4" y="235.14" font-size="8" fill="#c83c44" text-anchor="end">0.6</text>
<text x="444.4" y="260.36" font-size="8" fill="#c83c44" text-anchor="end">0.4</text>
<text x="444.4" y="285.58" font-size="8" fill="#c83c44" text-anchor="end">0.2</text>
<text x="444.4" y="310.8" font-size="8" fill="#c83c44" text-anchor="end">0</text>
<text x="640" y="184.6" font-size="8" fill="#4d6e9c">0.5</text>
<text x="640" y="209.84" font-size="8" fill="#4d6e9c">0.4</text>
<text x="640" y="235.08" font-size="8" fill="#4d6e9c">0.3</text>
<text x="640" y="260.32" font-size="8" fill="#4d6e9c">0.2</text>
<text x="640" y="285.56" font-size="8" fill="#4d6e9c">0.1</text>
<text x="640" y="310.8" font-size="8" fill="#4d6e9c">0</text>
<text x="452.3" y="325" font-size="8" fill="#333" text-anchor="middle">0</text>
<text x="482.13" y="325" font-size="8" fill="#333" text-anchor="middle">20</text>
<text x="511.97" y="325" font-size="8" fill="#333" text-anchor="middle">40</text>
<text x="541.8" y="325" font-size="8" fill="#333" text-anchor="middle">60</text>
<text x="571.63" y="325" font-size="8" fill="#333" text-anchor="middle">80</text>
<text x="601.47" y="325" font-size="8" fill="#333" text-anchor="middle">100</text>
<text x="631.3" y="325" font-size="8" fill="#333" text-anchor="middle">120</text>
<text x="541.5" y="341.5" font-size="8.6" fill="#333" text-anchor="middle"><tspan font-style="italic" font-size="10.5">t</tspan> (ms)</text>
<text transform="translate(404.6,245.3) rotate(-90)" font-size="10" fill="#222" text-anchor="middle">Population of even sites</text>
<text transform="translate(422.6,245.3) rotate(-90)" font-size="10" fill="#222" text-anchor="middle">Particle density</text>
<text transform="translate(659,246) rotate(90)" font-size="10" fill="#222" text-anchor="middle">Deviation of electric field</text>
<text transform="translate(677.6,247.2) rotate(90)" font-size="10" fill="#222" text-anchor="middle">Doublons on odd sites</text>
<path d="M452.3,300.39 V312.39" stroke="#5676a2" stroke-width="0.8"/>
<rect x="450.4" y="304.49" width="3.8" height="3.8" fill="#335885"/>
<path d="M467.22,301.9 V313.9" stroke="#5676a2" stroke-width="0.8"/>
<rect x="465.32" y="306" width="3.8" height="3.8" fill="#335885"/>
<path d="M482.13,303.92 V315.92" stroke="#5676a2" stroke-width="0.8"/>
<rect x="480.23" y="308.02" width="3.8" height="3.8" fill="#335885"/>
<path d="M497.05,304.41 V314.41" stroke="#5676a2" stroke-width="0.8"/>
<rect x="495.15" y="307.51" width="3.8" height="3.8" fill="#335885"/>
<path d="M511.97,292.3 V303.3" stroke="#5676a2" stroke-width="0.8"/>
<rect x="510.07" y="295.9" width="3.8" height="3.8" fill="#335885"/>
<path d="M519.42,277.16 V289.16" stroke="#5676a2" stroke-width="0.8"/>
<rect x="517.52" y="281.26" width="3.8" height="3.8" fill="#335885"/>
<path d="M526.88,271.59 V278.59" stroke="#5676a2" stroke-width="0.8"/>
<rect x="524.98" y="273.19" width="3.8" height="3.8" fill="#335885"/>
<path d="M534.34,245.87 V257.87" stroke="#5676a2" stroke-width="0.8"/>
<rect x="532.44" y="249.97" width="3.8" height="3.8" fill="#335885"/>
<path d="M541.8,232.23 V242.23" stroke="#5676a2" stroke-width="0.8"/>
<rect x="539.9" y="235.33" width="3.8" height="3.8" fill="#335885"/>
<path d="M556.72,222.64 V232.64" stroke="#5676a2" stroke-width="0.8"/>
<rect x="554.82" y="225.74" width="3.8" height="3.8" fill="#335885"/>
<path d="M571.63,210.04 V224.04" stroke="#5676a2" stroke-width="0.8"/>
<rect x="569.73" y="215.14" width="3.8" height="3.8" fill="#335885"/>
<path d="M586.55,205.25 V222.25" stroke="#5676a2" stroke-width="0.8"/>
<rect x="584.65" y="211.85" width="3.8" height="3.8" fill="#335885"/>
<path d="M601.47,201.21 V217.21" stroke="#5676a2" stroke-width="0.8"/>
<rect x="599.57" y="207.31" width="3.8" height="3.8" fill="#335885"/>
<path d="M616.38,200.45 V216.45" stroke="#5676a2" stroke-width="0.8"/>
<rect x="614.48" y="206.55" width="3.8" height="3.8" fill="#335885"/>
<path d="M631.3,203.22 V217.22" stroke="#5676a2" stroke-width="0.8"/>
<rect x="629.4" y="208.32" width="3.8" height="3.8" fill="#335885"/>
<path d="M452.3,177.5 V186.1" stroke="#c8303a" stroke-width="0.8"/>
<circle cx="452.3" cy="181.8" r="2.2" fill="#c8283a"/>
<path d="M467.22,179.69 V187.69" stroke="#c8303a" stroke-width="0.8"/>
<circle cx="467.22" cy="183.69" r="2.2" fill="#c8283a"/>
<path d="M482.13,177.8 V185.8" stroke="#c8303a" stroke-width="0.8"/>
<circle cx="482.13" cy="181.8" r="2.2" fill="#c8283a"/>
<path d="M497.05,181.95 V187.95" stroke="#c8303a" stroke-width="0.8"/>
<circle cx="497.05" cy="184.95" r="2.2" fill="#c8283a"/>
<path d="M511.97,193.3 V199.3" stroke="#c8303a" stroke-width="0.8"/>
<circle cx="511.97" cy="196.3" r="2.2" fill="#c8283a"/>
<path d="M519.42,203.52 V210.52" stroke="#c8303a" stroke-width="0.8"/>
<circle cx="519.42" cy="207.02" r="2.2" fill="#c8283a"/>
<path d="M526.88,214.87 V221.87" stroke="#c8303a" stroke-width="0.8"/>
<circle cx="526.88" cy="218.37" r="2.2" fill="#c8283a"/>
<path d="M534.34,235.68 V242.68" stroke="#c8303a" stroke-width="0.8"/>
<circle cx="534.34" cy="239.18" r="2.2" fill="#c8283a"/>
<path d="M541.8,253.33 V260.33" stroke="#c8303a" stroke-width="0.8"/>
<circle cx="541.8" cy="256.83" r="2.2" fill="#c8283a"/>
<path d="M556.72,266.57 V273.57" stroke="#c8303a" stroke-width="0.8"/>
<circle cx="556.72" cy="270.07" r="2.2" fill="#c8283a"/>
<path d="M571.63,272.14 V283.14" stroke="#c8303a" stroke-width="0.8"/>
<circle cx="571.63" cy="277.64" r="2.2" fill="#c8283a"/>
<path d="M586.55,276.42 V286.42" stroke="#c8303a" stroke-width="0.8"/>
<circle cx="586.55" cy="281.42" r="2.2" fill="#c8283a"/>
<path d="M601.47,280.69 V287.69" stroke="#c8303a" stroke-width="0.8"/>
<circle cx="601.47" cy="284.19" r="2.2" fill="#c8283a"/>
<path d="M616.38,280.06 V286.06" stroke="#c8303a" stroke-width="0.8"/>
<circle cx="616.38" cy="283.06" r="2.2" fill="#c8283a"/>
<path d="M631.3,279.06 V287.06" stroke="#c8303a" stroke-width="0.8"/>
<circle cx="631.3" cy="283.06" r="2.2" fill="#c8283a"/>
</svg></body></html>
